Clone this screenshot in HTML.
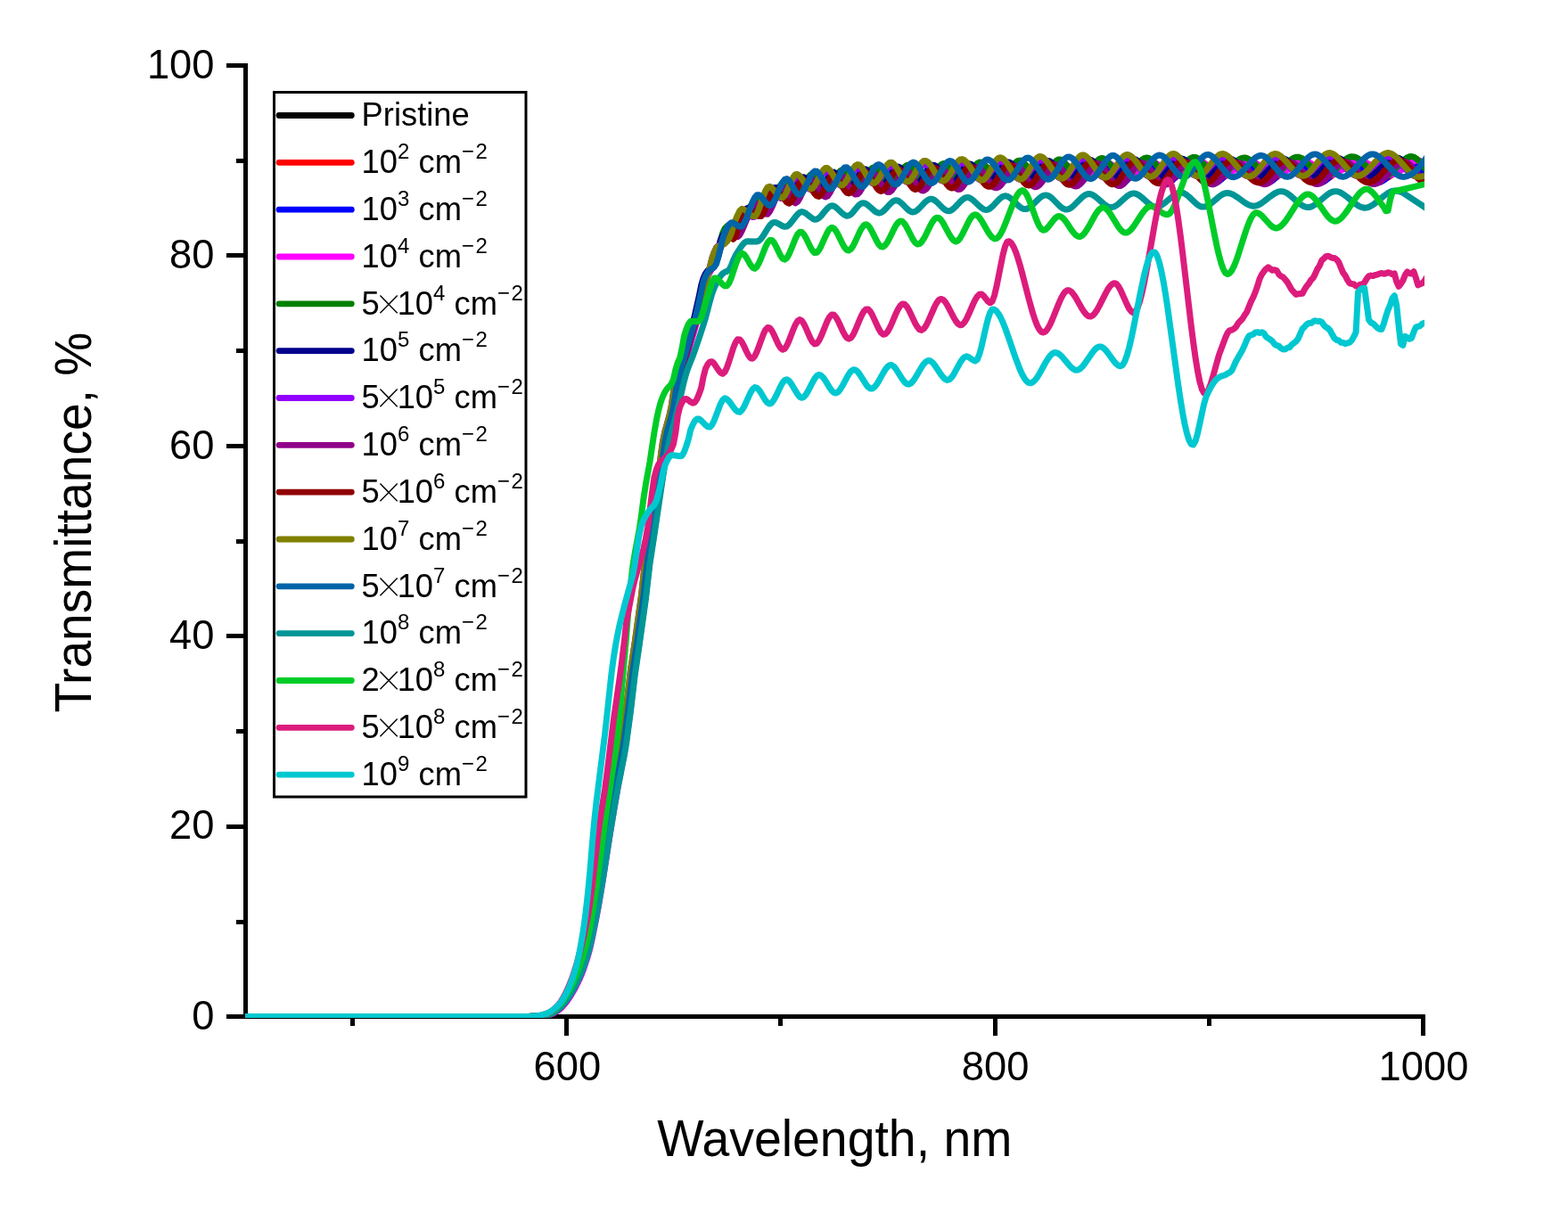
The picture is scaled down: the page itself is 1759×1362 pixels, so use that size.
<!DOCTYPE html>
<html lang="en"><head><meta charset="utf-8"><title>Transmittance vs Wavelength</title>
<style>html,body{margin:0;padding:0;background:#fff;overflow:hidden}svg{display:block}.s{font-size:24.6px}.x{font-size:34px;font-family:'Noto Serif CJK SC','Liberation Serif',serif}</style></head>
<body>
<svg width="1759" height="1362" viewBox="0 0 1759 1362" font-family="'Liberation Sans', Arial, Helvetica, sans-serif" fill="#000">
<rect width="1759" height="1362" fill="#fff"/>
<defs><clipPath id="plot"><rect x="275" y="60" width="1323" height="1082"/></clipPath></defs>
<g stroke="#000" stroke-width="5" fill="none">
<path d="M275.5,71 V1143"/>
<path d="M273,1140.5 H1599"/>
<path d="M254,1140.5 H275 M265,1034.5 H275 M254,927.5 H275 M265,820.5 H275 M254,713.5 H275 M265,607.5 H275 M254,500.5 H275 M265,393.5 H275 M254,286.5 H275 M265,180.5 H275 M254,73.5 H275 M395.5,1140 V1151 M635.5,1140 V1162 M875.5,1140 V1151 M1116.5,1140 V1162 M1356.5,1140 V1151 M1596.5,1140 V1162"/>
</g>
<g fill="none" stroke-width="7" stroke-linejoin="round" stroke-linecap="round" clip-path="url(#plot)">
<path stroke="#000000" d="M273.1,1140.5 582.7,1140.5 597.1,1140.4 606.7,1140 611.5,1139.5 616.3,1138.3 618.7,1137.4 621.1,1136.2 623.5,1134.8 625.9,1133 628.3,1131 630.7,1128.6 633.1,1125.8 635.5,1122.7 637.9,1119.3 640.3,1115.5 645.1,1106.9 649.9,1096.7 652.3,1090.9 654.7,1084.4 657.1,1076.4 659.5,1069.2 661.9,1059.7 664.3,1048.6 669.1,1023.8 671.5,1010.4 676.3,981.1 683.5,934.2 688.3,905.1 693.1,878 697.9,852.9 700.3,839.2 702.7,823.1 705.1,805.4 709.9,764.2 712.3,746 717.1,714.3 724.3,661.7 726.7,638.4 731.5,606.6 736.3,573.1 741.1,542.9 743.5,526 745.9,506.3 748.3,491.3 750.7,481.3 753.1,473 755.5,463.9 757.9,451 760.3,435.7 762.7,424.9 765.1,415.7 769.9,398.5 779.5,365.4 781.9,355.8 784.3,345.3 789.1,323 791.5,313.5 793.9,307.9 796.3,304.1 801.1,297.9 803.5,293.7 805.9,286.8 808.3,277.9 810.7,269.8 813.1,264.3 815.5,262 817.9,261.3 820.3,261.6 822.7,264.8 825.1,265.6 827.5,261.5 832.3,247.9 834.7,242.3 837.1,237.9 839.5,234.8 841.9,232.9 844.3,232.1 846.7,232.5 849.1,234.1 853.9,239.2 856.3,239.7 858.7,237.1 861.1,231.7 863.5,225.5 865.9,220 868.3,215.6 870.7,212.8 873.1,211.6 875.5,211.9 877.9,213.7 880.3,216.7 885.1,224 887.5,225.8 889.9,224.9 892.3,221.1 897.1,210 899.5,205.4 901.9,202.4 904.3,201.1 906.7,201.5 909.1,203.4 911.5,206.5 916.3,214.3 918.7,217.2 921.1,218.5 923.5,217.5 925.9,214.5 933.1,200.5 935.5,197.3 937.9,195.9 940.3,196.5 942.7,198.9 945.1,202.6 949.9,210.8 952.3,213.7 954.7,215.1 957.1,214.7 959.5,212.6 961.9,209 966.7,200 969.1,196.1 971.5,193.5 973.9,192.6 976.3,193.5 978.7,196.1 981.1,199.8 985.9,208 988.3,210.9 990.7,212.5 993.1,212.4 995.5,210.7 997.9,207.6 1005.1,195.2 1007.5,192.1 1009.9,190.3 1012.3,190.2 1014.7,191.6 1017.1,194.4 1024.3,205.9 1026.7,208.8 1029.1,210.5 1031.5,210.7 1033.9,209.4 1036.3,206.7 1038.7,203.1 1043.5,195 1045.9,191.6 1048.3,189.2 1050.7,188.2 1053.1,188.7 1055.5,190.5 1057.9,193.6 1065.1,204.9 1067.5,207.7 1069.9,209.3 1072.3,209.3 1074.7,207.8 1077.1,204.9 1084.3,192.9 1086.7,189.7 1089.1,187.5 1091.5,186.7 1093.9,187.3 1096.3,189.1 1098.7,192 1105.9,202.5 1108.3,205.3 1110.7,207.1 1113.1,207.7 1115.5,207.1 1117.9,205.3 1120.3,202.5 1122.7,199.1 1127.5,191.7 1129.9,188.5 1132.3,186.2 1134.7,184.9 1137.1,185 1139.5,186.4 1141.9,188.9 1144.3,192.2 1149.1,199.6 1151.5,202.8 1153.9,205 1156.3,206.2 1158.7,206.2 1161.1,205 1163.5,202.7 1165.9,199.6 1173.1,188.9 1175.5,186 1177.9,184.2 1180.3,183.5 1182.7,184.1 1185.1,185.8 1187.5,188.7 1194.7,199.4 1197.1,202.4 1199.5,204.5 1201.9,205.6 1204.3,205.5 1206.7,204.2 1209.1,202 1211.5,199.1 1218.7,188.7 1221.1,185.7 1223.5,183.6 1225.9,182.4 1228.3,182.3 1230.7,183.2 1233.1,185.1 1235.5,187.8 1242.7,198 1245.1,201 1247.5,203.3 1249.9,204.8 1252.3,205.2 1254.7,204.5 1257.1,202.7 1259.5,200.1 1261.9,196.8 1266.7,189.7 1269.1,186.5 1271.5,183.9 1273.9,182.2 1276.3,181.5 1278.7,181.7 1281.1,182.9 1283.5,184.9 1285.9,187.5 1293.1,196.7 1295.5,199.5 1297.9,201.7 1300.3,203.3 1302.7,203.9 1305.1,203.7 1307.5,202.6 1309.9,200.7 1312.3,198.2 1319.5,188.8 1321.9,185.9 1324.3,183.5 1326.7,181.8 1329.1,181 1331.5,181 1333.9,181.9 1336.3,183.6 1338.7,186.1 1341.1,189 1345.9,195.3 1348.3,198.2 1350.7,200.6 1353.1,202.3 1355.5,203.3 1357.9,203.4 1360.3,202.6 1362.7,201.1 1365.1,198.9 1367.5,196.2 1374.7,187.4 1377.1,184.9 1379.5,183 1381.9,181.7 1384.3,181.2 1386.7,181.3 1389.1,182.2 1391.5,183.6 1393.9,185.6 1396.3,187.9 1403.5,195.7 1405.9,198.1 1408.3,200.2 1410.7,201.8 1413.1,202.9 1415.5,203.4 1417.9,203.1 1420.3,202.1 1422.7,200.5 1425.1,198.3 1427.5,195.7 1434.7,187.1 1437.1,184.7 1439.5,182.8 1441.9,181.5 1444.3,180.9 1446.7,181.1 1449.1,181.9 1451.5,183.4 1453.9,185.4 1456.3,187.8 1463.5,195.9 1465.9,198.3 1468.3,200.4 1470.7,201.9 1473.1,202.9 1475.5,203.1 1477.9,202.7 1480.3,201.6 1482.7,199.9 1485.1,197.7 1487.5,195.1 1494.7,186.9 1497.1,184.5 1499.5,182.5 1501.9,181.1 1504.3,180.3 1506.7,180.2 1509.1,180.7 1511.5,181.8 1513.9,183.4 1516.3,185.5 1518.7,187.8 1525.9,195.6 1528.3,197.9 1530.7,199.9 1533.1,201.5 1535.5,202.6 1537.9,203.1 1540.3,203 1542.7,202.4 1545.1,201.2 1547.5,199.6 1549.9,197.6 1552.3,195.4 1561.9,185.6 1564.3,183.6 1566.7,181.9 1569.1,180.7 1571.5,180.1 1573.9,180.1 1576.3,180.8 1578.7,182.2 1581.1,184.2 1583.5,186.6 1593.1,198.2 1595.5,200.5 1597.9,202.1 1600.3,203"/>
<path stroke="#ff0000" d="M273.1,1140.5 580.3,1140.5 594.7,1140.4 604.3,1140.2 609.1,1139.7 613.9,1138.8 616.3,1138.1 618.7,1137.2 621.1,1135.9 623.5,1134.4 625.9,1132.6 628.3,1130.5 630.7,1128 633.1,1125.2 635.5,1122 637.9,1118.5 642.7,1110.4 647.5,1100.9 649.9,1095.5 652.3,1089.6 654.7,1083 657.1,1075.5 659.5,1067.3 661.9,1057.6 664.3,1046.1 669.1,1021.1 673.9,993.1 681.1,946.1 688.3,902.1 690.7,888.3 697.9,850.1 700.3,836 705.1,801.5 709.9,760.1 712.3,742.7 717.1,710.7 721.9,675.8 724.3,657.2 726.7,634.6 731.5,603.1 736.3,569.8 741.1,539.7 743.5,522 745.9,502.5 748.3,488.9 750.7,479.5 753.1,471.3 755.5,461.7 760.3,433.3 762.7,422.9 769.9,396.7 777.1,372.2 779.5,363.5 781.9,353.7 786.7,332.4 789.1,320.6 791.5,312.2 793.9,307 796.3,303.5 798.7,300.5 801.1,297.1 803.5,292.1 805.9,283.9 808.3,274.2 810.7,265.6 813.1,259.9 815.5,257.2 817.9,255.9 820.3,255.6 822.7,256.5 825.1,259.3 827.5,260.6 829.9,258.7 832.3,254.8 839.5,240 841.9,235.5 844.3,231.5 846.7,228.4 849.1,226.5 851.5,226.5 853.9,228.4 856.3,231.7 858.7,234.4 861.1,234.9 863.5,232.9 865.9,229.3 873.1,215.8 875.5,212.1 877.9,209.6 880.3,208.6 882.7,209.4 885.1,212.1 889.9,219.9 892.3,222.1 894.7,221.7 897.1,219.3 899.5,215.4 904.3,206.8 906.7,203.3 909.1,200.8 911.5,199.7 913.9,200.2 916.3,202.4 923.5,213 925.9,215.1 928.3,215.3 930.7,213.7 933.1,210.5 937.9,202.1 940.3,198.5 942.7,196.1 945.1,195.3 947.5,196.3 949.9,198.7 957.1,209.2 959.5,211.6 961.9,212.6 964.3,211.9 966.7,209.8 969.1,206.4 973.9,198.3 976.3,194.9 978.7,192.8 981.1,192.3 983.5,193.3 985.9,195.7 993.1,206 995.5,208.6 997.9,209.9 1000.3,209.8 1002.7,208.3 1005.1,205.5 1012.3,194.5 1014.7,191.7 1017.1,190.1 1019.5,189.9 1021.9,191.2 1024.3,193.6 1031.5,203.6 1033.9,206.3 1036.3,207.9 1038.7,208.3 1041.1,207.3 1043.5,205.1 1045.9,202 1050.7,194.8 1053.1,191.6 1055.5,189.3 1057.9,188.2 1060.3,188.4 1062.7,189.9 1065.1,192.4 1072.3,202.7 1074.7,205.3 1077.1,206.8 1079.5,206.9 1081.9,205.6 1084.3,203.2 1086.7,200 1091.5,193 1093.9,190 1096.3,187.8 1098.7,186.8 1101.1,186.9 1103.5,188.1 1105.9,190.3 1108.3,193.2 1113.1,199.4 1115.5,202.1 1117.9,204 1120.3,205 1122.7,204.9 1125.1,203.8 1127.5,201.7 1129.9,198.8 1134.7,192.1 1137.1,188.9 1139.5,186.5 1141.9,185 1144.3,184.7 1146.7,185.6 1149.1,187.5 1151.5,190.2 1156.3,196.7 1158.7,199.6 1161.1,202 1163.5,203.5 1165.9,204 1168.3,203.4 1170.7,201.8 1173.1,199.4 1175.5,196.3 1180.3,189.6 1182.7,186.8 1185.1,184.7 1187.5,183.7 1189.9,183.7 1192.3,184.9 1194.7,187.1 1197.1,189.9 1201.9,196.2 1204.3,199.1 1206.7,201.3 1209.1,202.8 1211.5,203.3 1213.9,202.8 1216.3,201.4 1218.7,199.2 1221.1,196.4 1228.3,187.2 1230.7,184.8 1233.1,183.1 1235.5,182.3 1237.9,182.4 1240.3,183.5 1242.7,185.5 1245.1,188 1252.3,197.2 1254.7,199.8 1257.1,201.7 1259.5,202.7 1261.9,202.7 1264.3,201.7 1266.7,199.9 1269.1,197.4 1276.3,188.4 1278.7,185.8 1281.1,183.7 1283.5,182.3 1285.9,181.7 1288.3,181.9 1290.7,182.9 1293.1,184.6 1295.5,186.9 1302.7,195 1305.1,197.5 1307.5,199.5 1309.9,200.8 1312.3,201.4 1314.7,201.1 1317.1,200.1 1319.5,198.4 1321.9,196.1 1329.1,187.9 1331.5,185.3 1333.9,183.2 1336.3,181.8 1338.7,181.1 1341.1,181.2 1343.5,182 1345.9,183.6 1348.3,185.8 1357.9,196.5 1360.3,198.6 1362.7,200.2 1365.1,201.1 1367.5,201.2 1369.9,200.6 1372.3,199.3 1374.7,197.5 1377.1,195.2 1384.3,187.7 1386.7,185.5 1389.1,183.8 1391.5,182.5 1393.9,181.8 1396.3,181.6 1398.7,182.1 1401.1,183 1403.5,184.5 1405.9,186.3 1408.3,188.5 1415.5,195.5 1417.9,197.6 1420.3,199.3 1422.7,200.5 1425.1,201 1427.5,200.9 1429.9,200.1 1432.3,198.7 1434.7,196.8 1437.1,194.5 1444.3,186.9 1446.7,184.7 1449.1,182.9 1451.5,181.6 1453.9,180.9 1456.3,180.8 1458.7,181.3 1461.1,182.4 1463.5,184.1 1465.9,186.1 1475.5,195.6 1477.9,197.7 1480.3,199.3 1482.7,200.3 1485.1,200.8 1487.5,200.7 1489.9,199.9 1492.3,198.6 1494.7,196.8 1497.1,194.7 1504.3,187.5 1506.7,185.3 1509.1,183.4 1511.5,181.9 1513.9,180.9 1516.3,180.5 1518.7,180.6 1521.1,181.2 1523.5,182.3 1525.9,183.8 1528.3,185.7 1537.9,194.7 1540.3,196.7 1542.7,198.4 1545.1,199.7 1547.5,200.5 1549.9,200.8 1552.3,200.7 1554.7,200.1 1557.1,199 1559.5,197.5 1561.9,195.7 1564.3,193.6 1573.9,184.5 1576.3,182.6 1578.7,181.3 1581.1,180.5 1583.5,180.3 1585.9,180.8 1588.3,181.9 1590.7,183.7 1593.1,186 1600.3,194.1"/>
<path stroke="#0000ff" d="M273.1,1140.5 580.3,1140.5 594.7,1140.4 604.3,1140.1 609.1,1139.7 613.9,1138.7 616.3,1137.9 618.7,1136.9 621.1,1135.6 623.5,1134.1 625.9,1132.2 628.3,1130 630.7,1127.4 633.1,1124.5 637.9,1117.7 642.7,1109.5 647.5,1099.8 649.9,1094.3 652.3,1088.3 654.7,1081.5 659.5,1065.5 661.9,1055.4 664.3,1043.7 669.1,1018.3 673.9,990 681.1,942.9 688.3,899.2 690.7,885.5 697.9,847.3 700.3,832.7 705.1,797.5 709.9,756.1 714.7,723.9 721.9,672.3 726.7,631 729.1,615.9 736.3,566.6 741.1,536.3 745.9,499 748.3,486.8 753.1,469.5 755.5,459.3 757.9,443.8 760.3,430.9 762.7,420.9 765.1,412.1 769.9,394.9 777.1,370.5 779.5,361.5 784.3,340.9 789.1,318.3 791.5,311 793.9,306.2 796.3,303.1 798.7,300.3 801.1,296.9 803.5,291.6 805.9,282.9 808.3,273.3 810.7,265.2 813.1,260.1 815.5,258 817.9,257 820.3,257.1 822.7,259.7 825.1,263.7 827.5,264.6 829.9,261.2 832.3,255.9 837.1,244.3 839.5,239.1 841.9,234.6 844.3,231.1 846.7,228.8 849.1,228.2 851.5,229.6 853.9,233 856.3,236.9 858.7,239.2 861.1,238.3 863.5,234.5 870.7,218.6 873.1,214.3 875.5,211.2 877.9,209.8 880.3,210.2 882.7,212.6 885.1,216.9 887.5,221.7 889.9,225.4 892.3,226.3 894.7,224.1 897.1,219.8 901.9,209.5 904.3,205.1 906.7,201.9 909.1,200.5 911.5,200.8 913.9,202.9 916.3,206.6 921.1,215.4 923.5,218.5 925.9,219.4 928.3,218 930.7,214.6 935.5,204.8 937.9,200.2 940.3,197 942.7,195.8 945.1,196.6 947.5,199.3 949.9,203.3 954.7,211.9 957.1,215 959.5,216.4 961.9,216 964.3,213.6 966.7,209.8 971.5,200.3 973.9,196.2 976.3,193.5 978.7,192.6 981.1,193.7 983.5,196.5 985.9,200.4 990.7,208.9 993.1,212 995.5,213.7 997.9,213.7 1000.3,212 1002.7,208.8 1009.9,195.7 1012.3,192.4 1014.7,190.5 1017.1,190.3 1019.5,191.7 1021.9,194.6 1029.1,206.7 1031.5,209.9 1033.9,211.8 1036.3,212.2 1038.7,210.9 1041.1,208.3 1043.5,204.6 1048.3,196 1050.7,192.3 1053.1,189.7 1055.5,188.4 1057.9,188.8 1060.3,190.6 1062.7,193.8 1069.9,205.9 1072.3,209 1074.7,210.7 1077.1,210.8 1079.5,209.2 1081.9,206.2 1084.3,202.3 1089.1,193.9 1091.5,190.4 1093.9,188 1096.3,187 1098.7,187.3 1101.1,189.1 1103.5,191.9 1110.7,203 1113.1,206 1115.5,208.1 1117.9,209 1120.3,208.6 1122.7,207 1125.1,204.3 1127.5,200.8 1132.3,192.8 1134.7,189.3 1137.1,186.6 1139.5,185.2 1141.9,185.1 1144.3,186.4 1146.7,189 1149.1,192.4 1153.9,200.2 1156.3,203.6 1158.7,206.1 1161.1,207.6 1163.5,207.8 1165.9,206.8 1168.3,204.6 1170.7,201.5 1177.9,190 1180.3,186.8 1182.7,184.7 1185.1,183.8 1187.5,184.2 1189.9,186 1192.3,188.9 1199.5,200 1201.9,203.3 1204.3,205.6 1206.7,207 1209.1,207.2 1211.5,206.2 1213.9,204.1 1216.3,201.2 1223.5,190.2 1225.9,186.9 1228.3,184.4 1230.7,182.8 1233.1,182.4 1235.5,183.1 1237.9,184.8 1240.3,187.5 1242.7,190.8 1247.5,198.2 1249.9,201.6 1252.3,204.3 1254.7,206.1 1257.1,206.8 1259.5,206.3 1261.9,204.7 1264.3,202.1 1266.7,198.8 1271.5,191.4 1273.9,187.9 1276.3,185.1 1278.7,183.1 1281.1,182 1283.5,181.9 1285.9,182.7 1288.3,184.4 1290.7,186.9 1293.1,189.9 1300.3,199.6 1302.7,202.2 1305.1,204.1 1307.5,205.2 1309.9,205.3 1312.3,204.5 1314.7,202.8 1317.1,200.3 1319.5,197.3 1326.7,187.4 1329.1,184.7 1331.5,182.7 1333.9,181.4 1336.3,181.2 1338.7,181.9 1341.1,183.5 1343.5,185.8 1345.9,188.8 1353.1,198.6 1355.5,201.3 1357.9,203.4 1360.3,204.7 1362.7,205.1 1365.1,204.6 1367.5,203.3 1369.9,201.3 1372.3,198.6 1379.5,189.5 1381.9,186.7 1384.3,184.5 1386.7,182.9 1389.1,181.9 1391.5,181.7 1393.9,182.2 1396.3,183.3 1398.7,185 1401.1,187.2 1403.5,189.7 1410.7,198 1413.1,200.4 1415.5,202.5 1417.9,204 1420.3,204.8 1422.7,204.8 1425.1,204.1 1427.5,202.6 1429.9,200.4 1432.3,197.8 1439.5,188.7 1441.9,186 1444.3,183.8 1446.7,182.2 1449.1,181.3 1451.5,181.1 1453.9,181.6 1456.3,182.9 1458.7,184.8 1461.1,187.1 1470.7,198.4 1473.1,200.8 1475.5,202.8 1477.9,204.1 1480.3,204.7 1482.7,204.6 1485.1,203.8 1487.5,202.2 1489.9,200.1 1492.3,197.6 1499.5,188.9 1501.9,186.2 1504.3,184 1506.7,182.2 1509.1,181.1 1511.5,180.6 1513.9,180.7 1516.3,181.5 1518.7,182.9 1521.1,184.8 1523.5,187.1 1533.1,197.8 1535.5,200.1 1537.9,202.1 1540.3,203.6 1542.7,204.5 1545.1,204.8 1547.5,204.5 1549.9,203.6 1552.3,202.2 1554.7,200.4 1557.1,198.2 1566.7,187.7 1569.1,185.2 1571.5,183.2 1573.9,181.6 1576.3,180.6 1578.7,180.4 1581.1,180.9 1583.5,182.2 1585.9,184.1 1588.3,186.7 1597.9,199.2 1600.3,201.7"/>
<path stroke="#ff00ff" d="M273.1,1140.5 582.7,1140.5 597.1,1140.4 606.7,1140.1 611.5,1139.6 616.3,1138.6 618.7,1137.8 621.1,1136.7 623.5,1135.4 625.9,1133.8 628.3,1131.9 630.7,1129.6 633.1,1127 635.5,1124.1 640.3,1117.1 645.1,1108.8 649.9,1099 652.3,1093.4 654.7,1087.2 659.5,1072.7 661.9,1063.8 664.3,1053.1 669.1,1029.1 671.5,1016.1 676.3,987.5 683.5,940.4 688.3,911.1 693.1,883.4 700.3,845.3 702.7,830.2 705.1,813 707.5,794.2 712.3,753.1 717.1,721.2 724.3,669.5 726.7,647.8 729.1,628.4 731.5,613.3 738.7,564.1 743.5,533.6 748.3,496.5 750.7,485.1 755.5,468 757.9,457.3 760.3,441.1 762.7,429.1 765.1,419.4 767.5,410.7 772.3,393.6 779.5,369 781.9,359.9 786.7,339.1 791.5,316.7 793.9,310 796.3,305.4 801.1,297.8 803.5,293.4 805.9,287.2 810.7,269 813.1,262 815.5,257.9 817.9,256.1 820.3,255.3 822.7,255.4 825.1,257 827.5,257.1 829.9,254.7 832.3,250.9 839.5,237.9 841.9,233.9 844.3,230.5 846.7,227.7 849.1,226 851.5,225.6 853.9,226.8 856.3,228.9 858.7,230.6 861.1,230.6 863.5,228.7 865.9,225.6 873.1,214.4 875.5,211.4 877.9,209.2 880.3,208.2 882.7,208.5 885.1,210.4 889.9,216.1 892.3,217.6 894.7,217.4 897.1,215.4 899.5,212.5 904.3,205.6 906.7,202.7 909.1,200.5 911.5,199.4 913.9,199.5 916.3,200.8 918.7,203.2 923.5,208.7 925.9,210.5 928.3,210.9 930.7,209.9 933.1,207.6 940.3,198.1 942.7,196 945.1,195 947.5,195.3 949.9,196.8 952.3,199.2 957.1,204.7 959.5,206.7 961.9,207.9 964.3,207.8 966.7,206.5 969.1,204.2 976.3,195 978.7,192.9 981.1,192 983.5,192.2 985.9,193.6 988.3,195.8 993.1,201.2 995.5,203.5 997.9,204.9 1000.3,205.4 1002.7,204.8 1005.1,203.1 1007.5,200.6 1012.3,194.7 1014.7,192.2 1017.1,190.3 1019.5,189.5 1021.9,189.8 1024.3,191.1 1026.7,193.2 1031.5,198.5 1033.9,200.9 1036.3,202.6 1038.7,203.6 1041.1,203.5 1043.5,202.4 1045.9,200.5 1048.3,198 1053.1,192.4 1055.5,190.1 1057.9,188.5 1060.3,187.8 1062.7,188.2 1065.1,189.5 1067.5,191.6 1074.7,199.5 1077.1,201.3 1079.5,202.3 1081.9,202.1 1084.3,201 1086.7,199.1 1093.9,191.1 1096.3,188.9 1098.7,187.2 1101.1,186.4 1103.5,186.5 1105.9,187.4 1108.3,189.1 1110.7,191.2 1115.5,196 1117.9,198 1120.3,199.5 1122.7,200.3 1125.1,200.3 1127.5,199.5 1129.9,197.9 1132.3,195.7 1139.5,188 1141.9,186 1144.3,184.8 1146.7,184.4 1149.1,185 1151.5,186.3 1153.9,188.3 1161.1,195.4 1163.5,197.3 1165.9,198.7 1168.3,199.3 1170.7,199 1173.1,198 1175.5,196.3 1177.9,194 1182.7,188.8 1185.1,186.5 1187.5,184.7 1189.9,183.6 1192.3,183.4 1194.7,184 1197.1,185.4 1199.5,187.3 1206.7,194.3 1209.1,196.3 1211.5,197.7 1213.9,198.4 1216.3,198.5 1218.7,197.7 1221.1,196.4 1223.5,194.4 1230.7,187.3 1233.1,185.1 1235.5,183.5 1237.9,182.4 1240.3,182.1 1242.7,182.5 1245.1,183.5 1247.5,185.2 1249.9,187.4 1257.1,194.4 1259.5,196.3 1261.9,197.5 1264.3,198 1266.7,197.8 1269.1,196.9 1271.5,195.3 1273.9,193.3 1281.1,186.5 1283.5,184.5 1285.9,183 1288.3,182 1290.7,181.6 1293.1,181.8 1295.5,182.5 1297.9,183.8 1300.3,185.5 1307.5,191.8 1309.9,193.6 1312.3,195.1 1314.7,196.1 1317.1,196.6 1319.5,196.4 1321.9,195.7 1324.3,194.4 1326.7,192.7 1336.3,184.3 1338.7,182.7 1341.1,181.5 1343.5,180.9 1345.9,180.9 1348.3,181.5 1350.7,182.7 1353.1,184.3 1362.7,192.5 1365.1,194.2 1367.5,195.5 1369.9,196.3 1372.3,196.6 1374.7,196.3 1377.1,195.5 1379.5,194.3 1381.9,192.7 1389.1,187.1 1393.9,184 1396.3,182.8 1398.7,182 1401.1,181.6 1403.5,181.6 1405.9,182 1408.3,182.9 1410.7,184.1 1413.1,185.6 1422.7,192.9 1425.1,194.4 1427.5,195.5 1429.9,196.2 1432.3,196.4 1434.7,196.1 1437.1,195.2 1439.5,194 1441.9,192.4 1449.1,186.6 1453.9,183.2 1456.3,181.9 1458.7,181 1461.1,180.5 1463.5,180.6 1465.9,181 1468.3,182 1470.7,183.3 1473.1,184.9 1480.3,190.5 1482.7,192.3 1485.1,193.8 1487.5,195 1489.9,195.8 1492.3,196.1 1494.7,196 1497.1,195.4 1499.5,194.4 1501.9,193 1504.3,191.4 1511.5,186 1516.3,182.8 1518.7,181.7 1521.1,180.8 1523.5,180.4 1525.9,180.4 1528.3,180.7 1530.7,181.5 1533.1,182.6 1537.9,185.6 1545.1,190.7 1549.9,193.7 1552.3,194.8 1554.7,195.6 1557.1,196 1559.5,196.1 1561.9,195.8 1564.3,195.2 1566.7,194.1 1569.1,192.8 1571.5,191.2 1581.1,183.7 1583.5,182.1 1585.9,181 1588.3,180.3 1590.7,180.1 1593.1,180.5 1595.5,181.5 1597.9,182.9 1600.3,184.7"/>
<path stroke="#008000" d="M273.1,1140.5 580.3,1140.5 594.7,1140.4 604.3,1140.1 609.1,1139.6 613.9,1138.6 616.3,1137.7 618.7,1136.7 621.1,1135.3 623.5,1133.7 625.9,1131.7 628.3,1129.5 630.7,1126.9 633.1,1123.9 637.9,1116.9 642.7,1108.5 647.5,1098.7 649.9,1093.1 652.3,1086.9 654.7,1080 657.1,1071.3 659.5,1063.5 661.9,1053.2 669.1,1014.7 673.9,986.7 681.1,939.8 685.9,910.5 690.7,882.8 695.5,857.7 697.9,844.3 700.3,829.3 705.1,793.3 709.9,752.4 714.7,720.5 721.9,668.7 724.3,646.7 726.7,627.7 729.1,612.7 736.3,563.4 741.1,532.9 743.5,513.6 745.9,496 748.3,484.7 753.1,467.6 755.5,456.8 757.9,440.5 760.3,428.7 762.7,419 765.1,410.3 769.9,393.2 777.1,368.7 779.5,359.5 784.3,338.6 789.1,316.3 791.5,309.8 793.9,305.4 798.7,299.9 801.1,296.1 803.5,289.7 808.3,269.9 810.7,261.5 813.1,256.4 815.5,253.8 817.9,252.4 820.3,252.1 822.7,253.1 825.1,256.4 827.5,258 829.9,256.1 832.3,252.1 839.5,236.4 841.9,231.5 844.3,227.3 846.7,224 849.1,222.1 851.5,222.3 853.9,224.7 856.3,228.6 858.7,231.8 861.1,232.5 863.5,230.5 865.9,226.5 873.1,211.8 875.5,207.8 877.9,205.1 880.3,204.1 882.7,205.1 885.1,208.3 889.9,217.2 892.3,219.7 894.7,219.4 897.1,216.7 899.5,212.5 904.3,203 906.7,199.1 909.1,196.3 911.5,195.2 913.9,195.8 916.3,198.3 923.5,210.4 925.9,212.7 928.3,213.1 930.7,211.2 933.1,207.7 937.9,198.3 940.3,194.3 942.7,191.6 945.1,190.8 947.5,191.9 949.9,194.6 957.1,206.5 959.5,209.2 961.9,210.3 964.3,209.7 966.7,207.2 969.1,203.5 973.9,194.4 976.3,190.6 978.7,188.3 981.1,187.7 983.5,188.9 985.9,191.6 993.1,203.3 995.5,206.1 997.9,207.7 1000.3,207.6 1002.7,205.9 1005.1,202.8 1012.3,190.4 1014.7,187.3 1017.1,185.5 1019.5,185.3 1021.9,186.7 1024.3,189.5 1031.5,200.8 1033.9,203.8 1036.3,205.7 1038.7,206.1 1041.1,205 1043.5,202.6 1045.9,199.1 1050.7,191 1053.1,187.4 1055.5,184.8 1057.9,183.6 1060.3,183.8 1062.7,185.5 1065.1,188.4 1072.3,199.9 1074.7,202.9 1077.1,204.6 1079.5,204.7 1081.9,203.3 1084.3,200.6 1086.7,197 1091.5,189.1 1093.9,185.7 1096.3,183.3 1098.7,182.1 1101.1,182.3 1103.5,183.7 1105.9,186.2 1108.3,189.4 1113.1,196.5 1115.5,199.5 1117.9,201.7 1120.3,202.8 1122.7,202.7 1125.1,201.4 1127.5,199.1 1129.9,195.9 1134.7,188.3 1137.1,184.8 1139.5,182.1 1141.9,180.4 1144.3,180.1 1146.7,181.1 1149.1,183.3 1151.5,186.3 1156.3,193.6 1158.7,196.9 1161.1,199.6 1163.5,201.3 1165.9,201.8 1168.3,201.2 1170.7,199.4 1173.1,196.7 1175.5,193.2 1180.3,185.7 1182.7,182.5 1185.1,180.2 1187.5,179 1189.9,179.1 1192.3,180.5 1194.7,182.9 1197.1,186.1 1201.9,193.2 1204.3,196.4 1206.7,198.9 1209.1,200.6 1211.5,201.2 1213.9,200.6 1216.3,199.1 1218.7,196.6 1221.1,193.5 1228.3,183.1 1230.7,180.4 1233.1,178.5 1235.5,177.6 1237.9,177.8 1240.3,179 1242.7,181.2 1245.1,184.1 1252.3,194.4 1254.7,197.3 1257.1,199.4 1259.5,200.6 1261.9,200.6 1264.3,199.5 1266.7,197.5 1269.1,194.6 1276.3,184.5 1278.7,181.5 1281.1,179.2 1283.5,177.7 1285.9,177 1288.3,177.3 1290.7,178.4 1293.1,180.3 1295.5,182.9 1302.7,192.1 1305.1,194.8 1307.5,197.1 1309.9,198.6 1312.3,199.2 1314.7,199 1317.1,197.8 1319.5,195.9 1321.9,193.4 1329.1,184.1 1331.5,181.2 1333.9,178.9 1336.3,177.2 1338.7,176.4 1341.1,176.5 1343.5,177.5 1345.9,179.3 1348.3,181.8 1357.9,193.8 1360.3,196.2 1362.7,197.9 1365.1,198.9 1367.5,199 1369.9,198.4 1372.3,196.9 1374.7,194.8 1377.1,192.3 1384.3,183.8 1386.7,181.4 1389.1,179.4 1391.5,178 1393.9,177.2 1396.3,177 1398.7,177.5 1401.1,178.6 1403.5,180.2 1405.9,182.3 1408.3,184.7 1415.5,192.6 1417.9,195 1420.3,196.9 1422.7,198.2 1425.1,198.8 1427.5,198.7 1429.9,197.8 1432.3,196.3 1434.7,194.1 1437.1,191.5 1444.3,183 1446.7,180.5 1449.1,178.5 1451.5,177.1 1453.9,176.3 1456.3,176.2 1458.7,176.8 1461.1,178 1463.5,179.8 1465.9,182.1 1475.5,192.9 1477.9,195.1 1480.3,196.9 1482.7,198.2 1485.1,198.7 1487.5,198.5 1489.9,197.7 1492.3,196.2 1494.7,194.2 1497.1,191.8 1504.3,183.7 1506.7,181.2 1509.1,179.1 1511.5,177.4 1513.9,176.3 1516.3,175.8 1518.7,175.9 1521.1,176.6 1523.5,177.9 1525.9,179.6 1528.3,181.7 1537.9,191.8 1540.3,194 1542.7,195.9 1545.1,197.4 1547.5,198.3 1549.9,198.7 1552.3,198.6 1554.7,197.9 1557.1,196.7 1559.5,195 1561.9,193 1564.3,190.6 1571.5,182.7 1573.9,180.3 1576.3,178.3 1578.7,176.7 1581.1,175.8 1583.5,175.6 1585.9,176.2 1588.3,177.5 1590.7,179.5 1593.1,182 1600.3,191.2"/>
<path stroke="#00008c" d="M273.1,1140.5 577.9,1140.5 592.3,1140.4 601.9,1140.1 606.7,1139.7 611.5,1138.8 613.9,1138.1 616.3,1137.1 618.7,1135.9 621.1,1134.5 623.5,1132.6 625.9,1130.5 628.3,1128 630.7,1125.1 633.1,1121.9 635.5,1118.3 640.3,1110 645.1,1100.1 649.9,1088.5 652.3,1082 654.7,1074.8 657.1,1066.1 659.5,1058.1 661.9,1048 664.3,1036 669.1,1007.9 678.7,945.3 685.9,901.5 688.3,887.8 695.5,849.5 697.9,835 700.3,818.6 702.7,800.3 707.5,759.3 709.9,742 714.7,709.9 719.5,675.1 721.9,656.3 724.3,633.8 729.1,602.4 733.9,569.2 738.7,539 743.5,501.8 745.9,488.5 748.3,479.2 750.7,470.9 753.1,461.2 757.9,432.8 760.3,422.5 767.5,396.4 774.7,371.9 777.1,363.1 779.5,353.2 784.3,331.9 786.7,320.1 789.1,311.9 791.5,306.8 793.9,303.6 796.3,301.7 798.7,299.5 801.1,295.5 803.5,287.7 805.9,278.2 808.3,269.6 810.7,264 813.1,261.8 815.5,260.9 817.9,261.4 820.3,262.7 822.7,264.5 825.1,261.6 827.5,254.4 829.9,246.6 832.3,240.7 834.7,236.7 837.1,234.3 839.5,233.1 841.9,232.9 844.3,233.6 846.7,234.9 849.1,236.7 851.5,238.3 853.9,238.2 856.3,235.3 858.7,229.6 861.1,222.7 863.5,216.7 865.9,212.7 868.3,210.7 870.7,210.4 873.1,211.5 875.5,213.8 880.3,220.1 882.7,222.7 885.1,223.8 887.5,222.2 889.9,217.9 894.7,205.9 897.1,201.5 899.5,199.2 901.9,198.8 904.3,200.2 906.7,202.9 911.5,210.2 913.9,213.5 916.3,215.6 918.7,215.9 921.1,214 923.5,210.2 928.3,200.2 930.7,196 933.1,193.6 935.5,193.1 937.9,194.7 940.3,197.9 945.1,206.3 947.5,209.8 949.9,212 952.3,212.4 954.7,210.9 957.1,207.8 964.3,194.7 966.7,191.5 969.1,189.8 971.5,190 973.9,192 976.3,195.4 981.1,203.8 983.5,207.3 985.9,209.4 988.3,209.9 990.7,208.6 993.1,205.9 995.5,202 1000.3,193.4 1002.7,189.9 1005.1,187.7 1007.5,187.1 1009.9,188.1 1012.3,190.6 1014.7,194.2 1019.5,202.2 1021.9,205.4 1024.3,207.5 1026.7,208 1029.1,206.9 1031.5,204.5 1033.9,200.9 1038.7,192.7 1041.1,189.1 1043.5,186.5 1045.9,185.2 1048.3,185.4 1050.7,187.1 1053.1,190 1060.3,201.5 1062.7,204.4 1065.1,206.2 1067.5,206.6 1069.9,205.3 1072.3,202.7 1074.7,199 1079.5,190.6 1081.9,187.1 1084.3,184.7 1086.7,183.7 1089.1,184.1 1091.5,185.9 1093.9,188.8 1101.1,199.6 1103.5,202.5 1105.9,204.3 1108.3,205 1110.7,204.3 1113.1,202.4 1115.5,199.6 1122.7,188.6 1125.1,185.5 1127.5,183.2 1129.9,182 1132.3,182 1134.7,183.4 1137.1,185.8 1139.5,189.2 1144.3,196.6 1146.7,199.9 1149.1,202.2 1151.5,203.4 1153.9,203.3 1156.3,201.9 1158.7,199.5 1161.1,196.3 1165.9,188.9 1168.3,185.5 1170.7,182.7 1173.1,181 1175.5,180.4 1177.9,181 1180.3,182.8 1182.7,185.7 1189.9,196.7 1192.3,199.7 1194.7,201.8 1197.1,202.7 1199.5,202.4 1201.9,201 1204.3,198.6 1206.7,195.4 1213.9,184.9 1216.3,182.1 1218.7,180.2 1221.1,179.2 1223.5,179.3 1225.9,180.6 1228.3,182.7 1230.7,185.7 1237.9,195.9 1240.3,198.8 1242.7,200.9 1245.1,202.1 1247.5,202.2 1249.9,201.2 1252.3,199.2 1254.7,196.3 1261.9,185.7 1264.3,182.5 1266.7,180.1 1269.1,178.7 1271.5,178.3 1273.9,178.9 1276.3,180.5 1278.7,182.8 1281.1,185.7 1288.3,195.2 1290.7,197.8 1293.1,199.8 1295.5,201 1297.9,201.2 1300.3,200.6 1302.7,199.1 1305.1,196.8 1307.5,194 1314.7,184.4 1317.1,181.7 1319.5,179.5 1321.9,178.2 1324.3,177.7 1326.7,178.1 1329.1,179.4 1331.5,181.5 1333.9,184.2 1341.1,193.6 1343.5,196.3 1345.9,198.5 1348.3,199.9 1350.7,200.4 1353.1,200.1 1355.5,198.9 1357.9,197 1360.3,194.5 1367.5,185.4 1369.9,182.6 1372.3,180.4 1374.7,178.8 1377.1,177.9 1379.5,177.8 1381.9,178.5 1384.3,179.9 1386.7,181.9 1389.1,184.2 1396.3,192.3 1398.7,194.8 1401.1,197 1403.5,198.7 1405.9,199.8 1408.3,200.4 1410.7,200.3 1413.1,199.6 1415.5,198.2 1417.9,196.2 1420.3,193.7 1427.5,185.1 1429.9,182.5 1432.3,180.4 1434.7,178.9 1437.1,178 1439.5,177.9 1441.9,178.6 1444.3,180 1446.7,181.9 1449.1,184.2 1456.3,192.4 1458.7,194.9 1461.1,197 1463.5,198.7 1465.9,199.8 1468.3,200.2 1470.7,199.9 1473.1,198.9 1475.5,197.3 1477.9,195.2 1480.3,192.6 1487.5,184.2 1489.9,181.7 1492.3,179.6 1494.7,178.1 1497.1,177.2 1499.5,177 1501.9,177.4 1504.3,178.5 1506.7,180.1 1509.1,182.2 1511.5,184.6 1518.7,192.5 1521.1,194.9 1523.5,196.9 1525.9,198.5 1528.3,199.6 1530.7,200.1 1533.1,200 1535.5,199.4 1537.9,198.1 1540.3,196.4 1542.7,194.3 1552.3,184.5 1554.7,182.2 1557.1,180.3 1559.5,178.7 1561.9,177.5 1564.3,176.9 1566.7,176.9 1569.1,177.5 1571.5,178.7 1573.9,180.5 1576.3,182.8 1578.7,185.5 1585.9,194.1 1588.3,196.5 1590.7,198.5 1593.1,199.7 1595.5,200.1 1597.9,199.7 1600.3,198.5"/>
<path stroke="#9200ff" d="M273.1,1140.5 577.9,1140.5 592.3,1140.4 601.9,1140.1 606.7,1139.6 611.5,1138.5 613.9,1137.7 616.3,1136.7 618.7,1135.4 621.1,1133.7 623.5,1131.8 625.9,1129.5 628.3,1126.8 630.7,1123.8 633.1,1120.4 635.5,1116.7 640.3,1108 645.1,1097.8 649.9,1085.9 652.3,1079.1 654.7,1071.6 659.5,1054.1 661.9,1043.4 664.3,1030.7 669.1,1001.5 676.3,954.1 683.5,909.9 688.3,882.3 693.1,857.2 695.5,843.7 697.9,828.3 700.3,811 702.7,792.1 707.5,751.7 712.3,719.9 719.5,668 721.9,645.7 724.3,627.1 726.7,612 731.5,578.6 738.7,532.2 741.1,512.7 743.5,495.4 745.9,484.3 750.7,467.2 753.1,456.2 755.5,439.9 757.9,428.1 760.3,418.2 762.7,409.4 767.5,393.7 769.9,386.8 777.1,367.5 779.5,360.5 784.3,345.4 786.7,337.3 789.1,328.4 798.7,290 801.1,283.1 803.5,277.9 805.9,275.6 810.7,273.9 813.1,272.5 815.5,270.1 817.9,266.9 820.3,262.1 822.7,254.4 825.1,248 827.5,243.1 829.9,239.1 832.3,237.5 834.7,238 837.1,239.3 841.9,242.5 844.3,243.4 846.7,243.2 849.1,240.5 851.5,235.5 856.3,223.1 858.7,217.6 861.1,214 863.5,213.1 865.9,214.1 868.3,216.2 873.1,220.9 875.5,222.4 877.9,222.3 880.3,220.1 882.7,216.1 887.5,206.4 889.9,202.3 892.3,199.7 894.7,199.3 897.1,200.7 899.5,203.2 904.3,209.2 906.7,211.5 909.1,212.5 911.5,211.8 913.9,209.3 916.3,205.7 921.1,197.7 923.5,194.4 925.9,192.5 928.3,192.4 930.7,194.1 933.1,196.9 937.9,203.6 940.3,206.5 942.7,208.2 945.1,208.2 947.5,206.5 949.9,203.5 957.1,192.4 959.5,189.7 961.9,188.5 964.3,189.1 966.7,191.1 969.1,194.2 973.9,201.1 976.3,204 978.7,205.7 981.1,205.7 983.5,204.2 985.9,201.5 993.1,191 995.5,188.2 997.9,186.4 1000.3,186.2 1002.7,187.6 1005.1,190.2 1012.3,200.3 1014.7,202.9 1017.1,204.3 1019.5,204 1021.9,202.3 1024.3,199.5 1031.5,189 1033.9,186.2 1036.3,184.6 1038.7,184.4 1041.1,185.7 1043.5,188 1045.9,191.1 1050.7,197.7 1053.1,200.5 1055.5,202.5 1057.9,203.3 1060.3,202.6 1062.7,200.6 1065.1,197.7 1072.3,187.4 1074.7,184.7 1077.1,183 1079.5,182.7 1081.9,183.6 1084.3,185.5 1086.7,188.1 1093.9,197.2 1096.3,199.7 1098.7,201.6 1101.1,202.4 1103.5,201.9 1105.9,199.9 1108.3,196.9 1115.5,186 1117.9,183.1 1120.3,181.3 1122.7,181 1125.1,182 1127.5,183.9 1129.9,186.6 1137.1,195.9 1139.5,198.5 1141.9,200.5 1144.3,201.4 1146.7,201.1 1149.1,199.4 1151.5,196.8 1158.7,186.4 1161.1,183.3 1163.5,180.9 1165.9,179.7 1168.3,179.9 1170.7,181.1 1173.1,183.1 1175.5,185.7 1182.7,194.5 1185.1,197.1 1187.5,199.1 1189.9,200.2 1192.3,200.3 1194.7,199.2 1197.1,197 1199.5,194.2 1206.7,184.1 1209.1,181.3 1211.5,179.2 1213.9,178.1 1216.3,178.4 1218.7,179.6 1221.1,181.6 1223.5,184.2 1230.7,193.1 1233.1,195.7 1235.5,197.8 1237.9,199.1 1240.3,199.4 1242.7,198.6 1245.1,196.9 1247.5,194.4 1257.1,182.3 1259.5,180 1261.9,178.3 1264.3,177.6 1266.7,178 1269.1,179.3 1271.5,181.2 1273.9,183.7 1281.1,192 1283.5,194.5 1285.9,196.5 1288.3,198 1290.7,198.5 1293.1,198.1 1295.5,196.7 1297.9,194.5 1300.3,191.7 1307.5,182.6 1309.9,180 1312.3,178 1314.7,176.9 1317.1,176.8 1319.5,177.7 1321.9,179.2 1324.3,181.3 1326.7,183.8 1333.9,191.8 1336.3,194.1 1338.7,196 1341.1,197.2 1343.5,197.7 1345.9,197.3 1348.3,196 1350.7,194.2 1353.1,192 1362.7,181.6 1365.1,179.4 1367.5,177.8 1369.9,176.9 1372.3,176.8 1374.7,177.4 1377.1,178.7 1379.5,180.5 1381.9,182.7 1391.5,192.6 1393.9,194.8 1396.3,196.5 1398.7,197.6 1401.1,198.1 1403.5,197.9 1405.9,196.8 1408.3,195.2 1410.7,193.1 1420.3,182.8 1422.7,180.5 1425.1,178.7 1427.5,177.4 1429.9,176.7 1432.3,176.9 1434.7,177.8 1437.1,179.2 1439.5,181 1441.9,183.1 1451.5,192.5 1453.9,194.5 1456.3,196.1 1458.7,197.1 1461.1,197.6 1463.5,197.3 1465.9,196.2 1468.3,194.6 1470.7,192.6 1480.3,182.5 1482.7,180.2 1485.1,178.2 1487.5,176.8 1489.9,175.9 1492.3,175.8 1494.7,176.4 1497.1,177.6 1499.5,179.3 1504.3,183.6 1511.5,190.8 1513.9,193 1516.3,194.8 1518.7,196.3 1521.1,197.2 1523.5,197.5 1525.9,197.2 1528.3,196.2 1530.7,194.9 1533.1,193.1 1535.5,191.1 1542.7,184.3 1547.5,180.1 1549.9,178.3 1552.3,177 1554.7,176.1 1557.1,175.8 1559.5,176.1 1561.9,177 1564.3,178.4 1566.7,180.2 1569.1,182.3 1578.7,191.7 1581.1,193.8 1583.5,195.6 1585.9,197.1 1588.3,198 1590.7,198.5 1593.1,198.4 1595.5,198.1 1597.9,197.6 1600.3,196.8"/>
<path stroke="#900088" d="M273.1,1140.5 582.7,1140.5 597.1,1140.4 606.7,1140 611.5,1139.5 616.3,1138.3 618.7,1137.4 621.1,1136.2 623.5,1134.8 625.9,1133 628.3,1131 630.7,1128.6 633.1,1125.8 635.5,1122.7 637.9,1119.3 640.3,1115.5 645.1,1106.9 649.9,1096.7 652.3,1090.9 654.7,1084.4 657.1,1076.4 659.5,1069.2 661.9,1059.7 664.3,1048.6 669.1,1023.8 671.5,1010.4 676.3,981.1 683.5,934.2 688.3,905.1 693.1,878 697.9,852.9 700.3,839.2 702.7,823.1 705.1,805.4 709.9,764.2 712.3,746 717.1,714.3 724.3,661.7 726.7,638.4 731.5,606.6 736.3,573.1 741.1,542.9 743.5,526 745.9,506.3 748.3,491.3 750.7,481.3 753.1,473 755.5,463.9 757.9,451 760.3,435.7 762.7,424.9 765.1,415.7 769.9,398.5 779.5,365.4 781.9,355.8 784.3,345.3 789.1,323 791.5,313.5 793.9,307.9 796.3,304 801.1,297.5 803.5,293 805.9,285.6 808.3,276.3 810.7,267.7 813.1,261.7 815.5,258.9 817.9,257.6 820.3,257.4 822.7,259.3 825.1,263.5 827.5,265.6 829.9,263.5 832.3,258.9 839.5,242 841.9,237 844.3,232.9 846.7,229.9 849.1,228.5 851.5,229.3 853.9,232.6 856.3,236.9 858.7,240.1 861.1,240.2 863.5,237.3 865.9,232.5 870.7,221.4 873.1,216.6 875.5,212.9 877.9,210.8 880.3,210.6 882.7,212.6 885.1,216.8 887.5,221.9 889.9,226.2 892.3,227.9 894.7,226.4 897.1,222.5 901.9,212 904.3,207.2 906.7,203.6 909.1,201.6 911.5,201.5 913.9,203.3 916.3,206.9 921.1,216.2 923.5,219.7 925.9,221.1 928.3,220.1 930.7,216.8 933.1,212.1 937.9,202 940.3,198.5 942.7,196.9 945.1,197.4 947.5,200 949.9,204 954.7,213 957.1,216.4 959.5,218.1 961.9,217.8 964.3,215.6 966.7,211.7 971.5,201.8 973.9,197.5 976.3,194.6 978.7,193.6 981.1,194.7 983.5,197.6 985.9,201.6 990.7,210.4 993.1,213.7 995.5,215.5 997.9,215.5 1000.3,213.7 1002.7,210.3 1009.9,196.8 1012.3,193.4 1014.7,191.5 1017.1,191.4 1019.5,193 1021.9,196.1 1029.1,208.7 1031.5,211.9 1033.9,213.7 1036.3,213.9 1038.7,212.4 1041.1,209.5 1043.5,205.5 1048.3,196.6 1050.7,192.9 1053.1,190.4 1055.5,189.4 1057.9,190.1 1060.3,192.3 1062.7,195.7 1067.5,204.3 1069.9,208.3 1072.3,211.2 1074.7,212.6 1077.1,212.3 1079.5,210.3 1081.9,207 1089.1,194.1 1091.5,190.8 1093.9,188.6 1096.3,188 1098.7,188.8 1101.1,191 1103.5,194.2 1110.7,205.7 1113.1,208.6 1115.5,210.4 1117.9,210.8 1120.3,210 1122.7,207.8 1125.1,204.7 1132.3,192.7 1134.7,189.3 1137.1,187 1139.5,186.1 1141.9,186.6 1144.3,188.5 1146.7,191.6 1153.9,203.4 1156.3,206.5 1158.7,208.7 1161.1,209.7 1163.5,209.3 1165.9,207.6 1168.3,204.8 1170.7,201.2 1175.5,193.1 1177.9,189.5 1180.3,186.7 1182.7,185.1 1185.1,184.9 1187.5,186.1 1189.9,188.6 1192.3,192 1197.1,200 1199.5,203.6 1201.9,206.5 1204.3,208.4 1206.7,209 1209.1,208.5 1211.5,206.7 1213.9,204 1216.3,200.5 1221.1,192.8 1223.5,189.2 1225.9,186.3 1228.3,184.3 1230.7,183.5 1233.1,183.8 1235.5,185.3 1237.9,187.8 1240.3,191.1 1247.5,202.3 1249.9,205.3 1252.3,207.5 1254.7,208.5 1257.1,208.4 1259.5,207 1261.9,204.5 1264.3,201.2 1271.5,189.9 1273.9,186.7 1276.3,184.4 1278.7,183.1 1281.1,182.8 1283.5,183.6 1285.9,185.3 1288.3,187.8 1290.7,190.8 1297.9,200.9 1300.3,203.7 1302.7,205.8 1305.1,207 1307.5,207.2 1309.9,206.4 1312.3,204.7 1314.7,202.2 1317.1,199.1 1324.3,188.8 1326.7,186 1329.1,183.8 1331.5,182.6 1333.9,182.2 1336.3,182.9 1338.7,184.5 1341.1,187 1343.5,190 1350.7,200.2 1353.1,203 1355.5,205.1 1357.9,206.5 1360.3,206.9 1362.7,206.3 1365.1,204.9 1367.5,202.7 1369.9,199.9 1377.1,190.4 1379.5,187.5 1381.9,185.2 1384.3,183.6 1386.7,182.8 1389.1,182.7 1391.5,183.4 1393.9,184.7 1396.3,186.6 1398.7,189 1408.3,200.2 1410.7,202.6 1413.1,204.6 1415.5,206 1417.9,206.7 1420.3,206.5 1422.7,205.6 1425.1,203.9 1427.5,201.6 1429.9,198.7 1437.1,189.3 1439.5,186.6 1441.9,184.5 1444.3,183 1446.7,182.3 1449.1,182.3 1451.5,183.1 1453.9,184.7 1456.3,186.8 1458.7,189.4 1465.9,198.3 1468.3,201 1470.7,203.3 1473.1,205.1 1475.5,206.2 1477.9,206.5 1480.3,206.1 1482.7,205 1485.1,203.1 1487.5,200.7 1489.9,197.9 1497.1,188.9 1499.5,186.3 1501.9,184.2 1504.3,182.6 1506.7,181.8 1509.1,181.6 1511.5,182.1 1513.9,183.3 1516.3,185 1518.7,187.3 1521.1,189.8 1528.3,198.3 1530.7,200.8 1533.1,203 1535.5,204.8 1537.9,205.9 1540.3,206.5 1542.7,206.4 1545.1,205.7 1547.5,204.4 1549.9,202.7 1552.3,200.5 1554.7,198 1561.9,189.8 1564.3,187.3 1566.7,185.1 1569.1,183.3 1571.5,182 1573.9,181.4 1576.3,181.6 1578.7,182.5 1581.1,184.2 1583.5,186.5 1585.9,189.3 1593.1,199.1 1595.5,202 1597.9,204.3 1600.3,205.9"/>
<path stroke="#900000" d="M273.1,1140.5 580.3,1140.5 594.7,1140.4 604.3,1140.1 609.1,1139.7 613.9,1138.7 616.3,1137.9 618.7,1136.9 621.1,1135.6 623.5,1134.1 625.9,1132.2 628.3,1130 630.7,1127.4 633.1,1124.5 637.9,1117.7 642.7,1109.5 647.5,1099.8 649.9,1094.3 652.3,1088.3 654.7,1081.5 659.5,1065.5 661.9,1055.4 664.3,1043.7 669.1,1018.3 673.9,990 681.1,942.9 688.3,899.2 690.7,885.5 697.9,847.3 700.3,832.7 705.1,797.5 709.9,756.1 714.7,723.9 721.9,672.3 726.7,631 729.1,615.9 736.3,566.6 741.1,536.3 745.9,499 748.3,486.8 753.1,469.5 755.5,459.3 757.9,443.8 760.3,430.9 762.7,420.9 769.9,394.9 777.1,370.5 779.5,361.5 784.3,340.9 789.1,318.3 791.5,311 793.9,306.2 796.3,303.1 798.7,300.7 801.1,297.8 803.5,293.3 805.9,285.5 808.3,276.9 810.7,270 813.1,266.1 815.5,265 817.9,265.2 820.3,266.2 822.7,268.3 825.1,265.4 827.5,258 829.9,250 832.3,244 834.7,240 837.1,237.6 839.5,236.5 841.9,236.5 844.3,237.4 846.7,238.9 849.1,240.9 851.5,242.6 853.9,242.6 856.3,239.6 858.7,233.6 861.1,226.4 863.5,220.1 865.9,216 868.3,213.8 870.7,213.5 873.1,214.8 875.5,217.3 880.3,224 882.7,226.9 885.1,228.2 887.5,226.8 889.9,222.3 894.7,209.7 897.1,204.9 899.5,202.3 901.9,201.8 904.3,203.2 906.7,206 913.9,217.3 916.3,219.8 918.7,220.4 921.1,218.7 923.5,214.9 928.3,204.3 930.7,199.8 933.1,196.9 935.5,196.1 937.9,197.5 940.3,200.7 945.1,209.6 947.5,213.5 949.9,216.2 952.3,216.9 954.7,215.7 957.1,212.7 959.5,208.5 964.3,198.9 966.7,195.2 969.1,193.1 971.5,192.9 973.9,194.6 976.3,197.9 981.1,206.8 983.5,210.8 985.9,213.4 988.3,214.4 990.7,213.6 993.1,211 995.5,207.2 1000.3,198.1 1002.7,194.1 1005.1,191.3 1007.5,190.1 1009.9,190.7 1012.3,192.9 1014.7,196.4 1019.5,205 1021.9,208.7 1024.3,211.3 1026.7,212.5 1029.1,211.9 1031.5,209.8 1033.9,206.5 1041.1,193.8 1043.5,190.5 1045.9,188.6 1048.3,188.2 1050.7,189.4 1053.1,192 1055.5,195.6 1060.3,204 1062.7,207.6 1065.1,210.1 1067.5,211.1 1069.9,210.5 1072.3,208.3 1074.7,204.8 1079.5,196 1081.9,191.9 1084.3,188.8 1086.7,187 1089.1,186.8 1091.5,188 1093.9,190.5 1096.3,194 1101.1,201.9 1103.5,205.3 1105.9,207.9 1108.3,209.2 1110.7,209.3 1113.1,208 1115.5,205.5 1117.9,202.1 1125.1,190.5 1127.5,187.5 1129.9,185.5 1132.3,184.8 1134.7,185.5 1137.1,187.5 1139.5,190.6 1146.7,202.2 1149.1,205.3 1151.5,207.3 1153.9,208 1156.3,207.4 1158.7,205.5 1161.1,202.6 1163.5,199 1168.3,191.2 1170.7,187.7 1173.1,185.1 1175.5,183.7 1177.9,183.4 1180.3,184.6 1182.7,187 1185.1,190.3 1189.9,198.2 1192.3,201.9 1194.7,204.8 1197.1,206.7 1199.5,207.3 1201.9,206.6 1204.3,204.8 1206.7,202 1209.1,198.6 1213.9,190.9 1216.3,187.5 1218.7,184.7 1221.1,182.9 1223.5,182.1 1225.9,182.5 1228.3,184 1230.7,186.5 1233.1,189.7 1240.3,200.6 1242.7,203.6 1245.1,205.7 1247.5,206.7 1249.9,206.6 1252.3,205.4 1254.7,203.1 1257.1,199.9 1264.3,188.6 1266.7,185.4 1269.1,183 1271.5,181.6 1273.9,181.3 1276.3,182.1 1278.7,183.8 1281.1,186.3 1283.5,189.4 1290.7,199.4 1293.1,202.2 1295.5,204.2 1297.9,205.4 1300.3,205.7 1302.7,205 1305.1,203.4 1307.5,201 1309.9,198 1317.1,187.8 1319.5,184.9 1321.9,182.7 1324.3,181.2 1326.7,180.7 1329.1,181.2 1331.5,182.6 1333.9,184.8 1336.3,187.6 1343.5,197.6 1345.9,200.5 1348.3,202.8 1350.7,204.4 1353.1,205 1355.5,204.7 1357.9,203.5 1360.3,201.5 1362.7,198.9 1369.9,189.3 1372.3,186.4 1374.7,183.9 1377.1,182.1 1379.5,181.1 1381.9,180.9 1384.3,181.5 1386.7,182.8 1389.1,184.7 1391.5,187.1 1401.1,198.2 1403.5,200.6 1405.9,202.6 1408.3,204 1410.7,204.8 1413.1,204.9 1415.5,204.3 1417.9,202.9 1420.3,200.9 1422.7,198.3 1432.3,186.4 1434.7,184 1437.1,182.2 1439.5,181.1 1441.9,180.9 1444.3,181.4 1446.7,182.6 1449.1,184.5 1451.5,186.8 1453.9,189.6 1461.1,198.2 1463.5,200.7 1465.9,202.6 1468.3,204 1470.7,204.7 1473.1,204.6 1475.5,203.8 1477.9,202.3 1480.3,200.3 1482.7,197.7 1489.9,188.8 1492.3,186 1494.7,183.6 1497.1,181.8 1499.5,180.5 1501.9,180 1504.3,180.2 1506.7,181 1509.1,182.5 1511.5,184.5 1513.9,186.9 1521.1,195.2 1523.5,197.9 1525.9,200.2 1528.3,202.2 1530.7,203.6 1533.1,204.5 1535.5,204.7 1537.9,204.3 1540.3,203.3 1542.7,201.8 1545.1,199.8 1547.5,197.5 1557.1,187 1559.5,184.7 1561.9,182.8 1564.3,181.2 1566.7,180.2 1569.1,179.9 1571.5,180.2 1573.9,181.1 1576.3,182.8 1578.7,185 1581.1,187.8 1588.3,197.2 1590.7,200 1593.1,202.3 1595.5,203.9 1597.9,204.7 1600.3,204.5"/>
<path stroke="#808000" d="M273.1,1140.5 577.9,1140.5 592.3,1140.4 601.9,1140.1 606.7,1139.6 611.5,1138.5 613.9,1137.7 616.3,1136.7 618.7,1135.4 621.1,1133.7 623.5,1131.8 625.9,1129.5 628.3,1126.8 630.7,1123.8 633.1,1120.4 635.5,1116.7 640.3,1108 645.1,1097.8 649.9,1085.9 652.3,1079.1 654.7,1071.6 659.5,1054.1 661.9,1043.4 664.3,1030.7 669.1,1001.5 676.3,954.1 683.5,909.9 688.3,882.3 693.1,857.2 695.5,843.7 697.9,828.3 700.3,811 702.7,792.1 707.5,751.7 712.3,719.9 719.5,668 721.9,645.7 724.3,627.1 726.7,612 731.5,578.6 738.7,532.2 741.1,512.7 743.5,495.4 745.9,484.3 750.7,467.2 753.1,456.2 755.5,439.9 757.9,428.1 760.3,418.2 762.7,409.4 767.5,393.7 769.9,386.8 777.1,367.5 779.5,360.5 784.3,345.4 786.7,337.3 789.1,328.4 798.7,290 801.1,283.3 803.5,278.2 805.9,276 810.7,274.6 813.1,273.3 815.5,270.9 817.9,267.5 820.3,262.3 822.7,254 825.1,246.8 827.5,241.2 829.9,236.4 832.3,234.3 834.7,235 837.1,236.7 841.9,241.1 844.3,242.6 846.7,242.8 849.1,239.9 851.5,234.4 856.3,220.3 858.7,214.1 861.1,210.1 863.5,209.3 865.9,210.8 868.3,213.6 873.1,219.7 875.5,221.6 877.9,221.8 880.3,219.3 882.7,214.8 887.5,203.6 889.9,198.8 892.3,195.8 894.7,195.5 897.1,197.3 899.5,200.4 904.3,207.8 906.7,210.6 909.1,212 911.5,211.2 913.9,208.3 916.3,204.1 921.1,194.7 923.5,190.9 925.9,188.6 928.3,188.6 930.7,190.6 933.1,194 937.9,202.2 940.3,205.6 942.7,207.7 945.1,207.8 947.5,205.7 949.9,202.2 957.1,189.1 959.5,186 961.9,184.5 964.3,185.2 966.7,187.7 969.1,191.4 973.9,199.7 976.3,203.1 978.7,205.2 981.1,205.3 983.5,203.5 985.9,200.3 993.1,187.9 995.5,184.6 997.9,182.5 1000.3,182.2 1002.7,183.9 1005.1,187 1012.3,199.1 1014.7,202.2 1017.1,203.9 1019.5,203.6 1021.9,201.6 1024.3,198.3 1031.5,185.8 1033.9,182.5 1036.3,180.5 1038.7,180.4 1041.1,181.9 1043.5,184.7 1045.9,188.4 1050.7,196.3 1053.1,199.7 1055.5,202 1057.9,203 1060.3,202.2 1062.7,199.8 1065.1,196.4 1072.3,184.2 1074.7,181 1077.1,179 1079.5,178.6 1081.9,179.7 1084.3,182 1086.7,185.1 1093.9,195.9 1096.3,199 1098.7,201.1 1101.1,202.2 1103.5,201.6 1105.9,199.3 1108.3,195.7 1115.5,182.7 1117.9,179.3 1120.3,177.2 1122.7,176.8 1125.1,178 1127.5,180.3 1129.9,183.5 1137.1,194.6 1139.5,197.8 1141.9,200.1 1144.3,201.2 1146.7,200.8 1149.1,198.9 1151.5,195.7 1153.9,191.8 1158.7,183.4 1161.1,179.7 1163.5,176.9 1165.9,175.5 1168.3,175.7 1170.7,177.1 1173.1,179.5 1175.5,182.6 1182.7,193.2 1185.1,196.3 1187.5,198.6 1189.9,200 1192.3,200.2 1194.7,198.8 1197.1,196.3 1199.5,192.9 1206.7,180.9 1209.1,177.6 1211.5,175.1 1213.9,173.9 1216.3,174.1 1218.7,175.6 1221.1,178 1223.5,181.1 1230.7,191.7 1233.1,194.9 1235.5,197.3 1237.9,198.9 1240.3,199.3 1242.7,198.3 1245.1,196.2 1247.5,193.3 1257.1,179 1259.5,176.2 1261.9,174.2 1264.3,173.4 1266.7,173.9 1269.1,175.4 1271.5,177.7 1273.9,180.6 1281.1,190.5 1283.5,193.5 1285.9,196 1288.3,197.7 1290.7,198.4 1293.1,197.9 1295.5,196.2 1297.9,193.6 1300.3,190.3 1307.5,179.4 1309.9,176.4 1312.3,174 1314.7,172.7 1317.1,172.6 1319.5,173.6 1321.9,175.5 1324.3,178 1326.7,180.9 1333.9,190.5 1336.3,193.3 1338.7,195.5 1341.1,197 1343.5,197.5 1345.9,197 1348.3,195.5 1350.7,193.4 1353.1,190.7 1362.7,178.3 1365.1,175.7 1367.5,173.8 1369.9,172.7 1372.3,172.6 1374.7,173.4 1377.1,174.9 1379.5,177 1381.9,179.6 1391.5,191.4 1393.9,193.9 1396.3,196 1398.7,197.4 1401.1,198 1403.5,197.7 1405.9,196.4 1408.3,194.5 1410.7,191.9 1420.3,179.7 1422.7,177 1425.1,174.8 1427.5,173.3 1429.9,172.5 1432.3,172.7 1434.7,173.8 1437.1,175.4 1439.5,177.6 1441.9,180.2 1451.5,191.4 1453.9,193.7 1456.3,195.6 1458.7,196.9 1461.1,197.4 1463.5,197 1465.9,195.8 1468.3,193.9 1470.7,191.5 1473.1,188.7 1480.3,179.5 1482.7,176.8 1485.1,174.4 1487.5,172.7 1489.9,171.7 1492.3,171.6 1494.7,172.3 1497.1,173.7 1499.5,175.7 1501.9,178.1 1504.3,180.8 1511.5,189.4 1513.9,192 1516.3,194.2 1518.7,195.9 1521.1,197 1523.5,197.4 1525.9,197 1528.3,195.9 1530.7,194.2 1533.1,192.1 1535.5,189.7 1542.7,181.6 1547.5,176.6 1549.9,174.5 1552.3,172.9 1554.7,171.9 1557.1,171.5 1559.5,171.9 1561.9,173 1564.3,174.6 1566.7,176.7 1569.1,179.2 1578.7,190.3 1581.1,192.9 1583.5,195 1585.9,196.8 1588.3,197.9 1590.7,198.4 1593.1,198.3 1595.5,197.9 1597.9,197.3 1600.3,196.4"/>
<path stroke="#0064a8" d="M273.1,1140.5 580.3,1140.5 594.7,1140.4 604.3,1140.1 609.1,1139.6 613.9,1138.6 616.3,1137.7 618.7,1136.7 621.1,1135.3 623.5,1133.7 625.9,1131.7 628.3,1129.5 630.7,1126.9 633.1,1123.9 637.9,1116.9 642.7,1108.5 647.5,1098.7 649.9,1093.1 652.3,1086.9 654.7,1080 657.1,1071.3 659.5,1063.5 661.9,1053.2 669.1,1014.7 673.9,986.7 681.1,939.8 685.9,910.5 690.7,882.8 695.5,857.7 697.9,844.3 700.3,829.3 705.1,793.3 709.9,752.4 714.7,720.5 721.9,668.7 724.3,646.7 726.7,627.7 729.1,612.7 736.3,563.4 741.1,532.9 743.5,513.6 745.9,496 748.3,484.7 753.1,467.6 755.5,456.8 757.9,440.5 760.3,428.7 762.7,419 765.1,410.3 769.9,393.2 777.1,368.7 779.5,359.5 781.9,349.3 789.1,316.3 791.5,309.8 793.9,305.4 796.3,302.8 801.1,299.9 803.5,296.2 805.9,288.3 810.7,268.1 813.1,260.6 815.5,255.9 817.9,251.9 820.3,249.8 822.7,250.3 827.5,253.2 829.9,254.3 832.3,253.8 834.7,250.6 837.1,245.5 844.3,226.4 846.7,221.6 849.1,218.8 851.5,218.8 853.9,220.7 858.7,226.9 861.1,229.5 863.5,230.7 865.9,229.5 868.3,226 870.7,220.9 875.5,209.4 877.9,204.5 880.3,201.3 882.7,200.6 885.1,202.5 887.5,206.2 892.3,214.8 894.7,217.8 897.1,218.6 899.5,216.9 901.9,213.2 909.1,198.2 911.5,194.2 913.9,192 916.3,192.2 918.7,194.6 921.1,198.3 925.9,207 928.3,210.4 930.7,212.2 933.1,211.6 935.5,208.8 937.9,204.5 942.7,194.6 945.1,190.5 947.5,188 949.9,187.8 952.3,189.7 954.7,193 961.9,205.3 964.3,208.2 966.7,209.6 969.1,208.8 971.5,206 973.9,201.8 978.7,192.3 981.1,188.1 983.5,185.3 985.9,184.5 988.3,185.8 990.7,188.5 993.1,192.3 997.9,200.5 1000.3,204 1002.7,206.4 1005.1,207.1 1007.5,205.8 1009.9,202.9 1012.3,199 1017.1,190 1019.5,186.1 1021.9,183.3 1024.3,182.1 1026.7,182.9 1029.1,185.1 1031.5,188.4 1038.7,200.2 1041.1,203.3 1043.5,205.1 1045.9,205.4 1048.3,203.8 1050.7,200.8 1053.1,197 1057.9,188.4 1060.3,184.6 1062.7,181.8 1065.1,180.5 1067.5,180.9 1069.9,183 1072.3,186.3 1079.5,198.3 1081.9,201.6 1084.3,203.7 1086.7,204.1 1089.1,202.9 1091.5,200.3 1093.9,196.8 1101.1,184.7 1103.5,181.6 1105.9,179.5 1108.3,178.9 1110.7,179.9 1113.1,182 1115.5,185 1122.7,195.7 1125.1,198.8 1127.5,201 1129.9,202.1 1132.3,201.8 1134.7,199.9 1137.1,197 1139.5,193.3 1144.3,185.2 1146.7,181.6 1149.1,178.8 1151.5,177.2 1153.9,177.1 1156.3,178.4 1158.7,180.8 1161.1,184 1168.3,195 1170.7,198.1 1173.1,200.3 1175.5,201.3 1177.9,200.8 1180.3,198.9 1182.7,196 1185.1,192.4 1189.9,184.4 1192.3,180.8 1194.7,178 1197.1,176.2 1199.5,175.9 1201.9,176.9 1204.3,179 1206.7,181.9 1213.9,192.5 1216.3,195.8 1218.7,198.4 1221.1,200.1 1223.5,200.7 1225.9,199.9 1228.3,198 1230.7,195.2 1233.1,191.9 1240.3,180.9 1242.7,177.9 1245.1,175.7 1247.5,174.5 1249.9,174.6 1252.3,176 1254.7,178.4 1257.1,181.4 1264.3,192.3 1266.7,195.5 1269.1,198.1 1271.5,199.8 1273.9,200.3 1276.3,199.6 1278.7,197.9 1281.1,195.4 1283.5,192.3 1290.7,182.1 1293.1,179 1295.5,176.5 1297.9,174.8 1300.3,174 1302.7,174.4 1305.1,175.7 1307.5,177.9 1309.9,180.6 1317.1,190.2 1319.5,193.2 1321.9,195.7 1324.3,197.5 1326.7,198.5 1329.1,198.4 1331.5,197.3 1333.9,195.3 1336.3,192.6 1345.9,179.9 1348.3,177.1 1350.7,175 1353.1,173.7 1355.5,173.4 1357.9,174.2 1360.3,175.8 1362.7,178.1 1365.1,180.8 1372.3,190.2 1374.7,193.1 1377.1,195.6 1379.5,197.5 1381.9,198.6 1384.3,198.7 1386.7,198 1389.1,196.7 1391.5,194.7 1393.9,192.4 1403.5,181.5 1405.9,179.1 1408.3,177 1410.7,175.5 1413.1,174.6 1415.5,174.5 1417.9,175.2 1420.3,176.7 1422.7,178.8 1425.1,181.3 1432.3,190 1434.7,192.7 1437.1,195 1439.5,196.9 1441.9,198 1444.3,198.4 1446.7,197.9 1449.1,196.6 1451.5,194.6 1453.9,192.3 1456.3,189.5 1463.5,180.8 1465.9,178.2 1468.3,176 1470.7,174.2 1473.1,173.2 1475.5,172.9 1477.9,173.5 1480.3,174.8 1482.7,176.8 1485.1,179.2 1494.7,190.5 1497.1,193.1 1499.5,195.3 1501.9,197 1504.3,198.1 1506.7,198.4 1509.1,197.9 1511.5,196.7 1513.9,195 1516.3,192.9 1518.7,190.5 1525.9,182.4 1530.7,177.5 1533.1,175.5 1535.5,174 1537.9,173.1 1540.3,172.9 1542.7,173.5 1545.1,174.6 1547.5,176.3 1549.9,178.4 1552.3,180.7 1559.5,188.6 1564.3,193.5 1566.7,195.5 1569.1,197 1571.5,198 1573.9,198.4 1576.3,198.2 1578.7,197.6 1581.1,196.6 1583.5,195.3 1585.9,193.6 1588.3,191.6 1590.7,189.2 1593.1,186.5 1595.5,183.6 1600.3,176.8"/>
<path stroke="#009696" d="M273.1,1140.5 580.3,1140.5 594.7,1140.4 604.3,1140.1 609.1,1139.7 613.9,1138.8 616.3,1138.1 618.7,1137.2 621.1,1136 623.5,1134.5 625.9,1132.7 628.3,1130.6 630.7,1128.2 633.1,1125.5 637.9,1119 642.7,1111.2 647.5,1102 652.3,1091.3 654.7,1085.1 657.1,1078.3 659.5,1070.7 661.9,1061.8 664.3,1051.3 669.1,1027.8 671.5,1015 676.3,986.9 683.5,940.4 690.7,896.9 693.1,883.7 700.3,847.9 702.7,833.5 707.5,797.5 712.3,756.9 717.1,724.5 724.3,673 729.1,631.7 733.9,600.6 743.5,536.1 745.9,521.2 748.3,507.1 750.7,495 753.1,485.4 757.9,468.4 767.5,427.3 769.9,418.5 772.3,411.7 777.1,399.7 779.5,393 784.3,379.2 789.1,364.5 791.5,356.5 796.3,338.2 798.7,329.9 801.1,323.4 803.5,318.2 805.9,313.5 808.3,309.7 810.7,306.9 813.1,305.3 815.5,304.4 817.9,302.7 820.3,298 822.7,291.8 825.1,286.7 829.9,279 832.3,275.5 834.7,272.7 837.1,271 839.5,270.7 849.1,270.9 851.5,270.1 853.9,267.7 856.3,264.3 861.1,256.5 863.5,253 865.9,250.5 868.3,249.4 870.7,249.8 873.1,250.9 877.9,253.6 880.3,254.3 882.7,254 885.1,252.4 887.5,249.7 892.3,243.3 894.7,240.4 897.1,238.4 899.5,237.6 901.9,238.2 904.3,239.6 909.1,243.5 911.5,245.2 913.9,246.2 916.3,246 918.7,244.6 921.1,242.2 925.9,236.3 928.3,233.6 930.7,231.6 933.1,230.8 935.5,231.3 937.9,232.8 945.1,239.5 947.5,241.3 949.9,242.2 952.3,241.9 954.7,240.3 957.1,237.8 961.9,231.9 964.3,229.4 966.7,227.9 969.1,227.7 971.5,228.6 973.9,230.3 981.1,236.7 983.5,238.2 985.9,239 988.3,238.6 990.7,237.1 993.1,234.8 997.9,229.5 1000.3,227.1 1002.7,225.4 1005.1,224.7 1007.5,225.2 1009.9,226.8 1012.3,228.9 1017.1,233.9 1019.5,236 1021.9,237.5 1024.3,238 1026.7,237.3 1029.1,235.7 1031.5,233.5 1036.3,228.3 1038.7,226 1041.1,224.2 1043.5,223.2 1045.9,223.3 1048.3,224.5 1050.7,226.4 1057.9,233.6 1060.3,235.5 1062.7,236.6 1065.1,236.7 1067.5,235.7 1069.9,233.9 1072.3,231.5 1077.1,226.4 1079.5,224.1 1081.9,222.4 1084.3,221.5 1086.7,221.6 1089.1,222.7 1091.5,224.5 1098.7,231.3 1101.1,233.3 1103.5,234.8 1105.9,235.5 1108.3,235.1 1110.7,233.8 1113.1,231.8 1120.3,224.2 1122.7,222 1125.1,220.4 1127.5,219.8 1129.9,220.2 1132.3,221.5 1134.7,223.3 1141.9,230.3 1144.3,232.3 1146.7,233.9 1149.1,234.6 1151.5,234.5 1153.9,233.5 1156.3,231.8 1158.7,229.6 1165.9,222.5 1168.3,220.6 1170.7,219.4 1173.1,218.9 1175.5,219.4 1177.9,220.7 1180.3,222.6 1187.5,229.9 1189.9,232.1 1192.3,233.8 1194.7,234.9 1197.1,235 1199.5,234.3 1201.9,232.9 1204.3,230.9 1213.9,221.3 1216.3,219.4 1218.7,218.1 1221.1,217.5 1223.5,217.8 1225.9,218.8 1228.3,220.3 1230.7,222.2 1237.9,228.5 1240.3,230.3 1242.7,231.7 1245.1,232.5 1247.5,232.5 1249.9,231.8 1252.3,230.5 1254.7,228.7 1264.3,220.2 1266.7,218.5 1269.1,217.4 1271.5,216.9 1273.9,217.2 1276.3,218.3 1278.7,219.8 1281.1,221.7 1288.3,228.1 1290.7,229.9 1293.1,231.3 1295.5,232.1 1297.9,232.1 1300.3,231.5 1302.7,230.3 1305.1,228.8 1307.5,226.9 1314.7,220.8 1317.1,219 1319.5,217.5 1321.9,216.5 1324.3,216 1326.7,216.3 1329.1,217.3 1331.5,218.9 1333.9,220.9 1341.1,227.8 1343.5,229.7 1345.9,231.2 1348.3,232.1 1350.7,232.1 1353.1,231.5 1355.5,230.3 1357.9,228.7 1367.5,220.7 1369.9,219 1372.3,217.6 1374.7,216.7 1377.1,216.5 1379.5,216.9 1381.9,217.7 1384.3,218.9 1389.1,222 1396.3,227.3 1398.7,228.7 1401.1,230 1403.5,230.8 1405.9,231.2 1408.3,231 1410.7,230.3 1413.1,229.2 1415.5,227.7 1417.9,226 1425.1,220.3 1429.9,217 1432.3,215.8 1434.7,214.9 1437.1,214.6 1439.5,214.9 1441.9,215.7 1444.3,217.1 1446.7,218.8 1449.1,220.8 1456.3,227.2 1458.7,229.1 1461.1,230.7 1463.5,231.8 1465.9,232.5 1468.3,232.5 1470.7,232 1473.1,230.9 1475.5,229.4 1480.3,225.7 1487.5,219.6 1489.9,217.8 1492.3,216.3 1494.7,215.2 1497.1,214.7 1499.5,214.7 1501.9,215.3 1504.3,216.3 1506.7,217.7 1511.5,221.3 1518.7,227.3 1523.5,230.7 1525.9,232 1528.3,232.8 1530.7,233.2 1533.1,233 1535.5,232.3 1537.9,231.1 1540.3,229.7 1542.7,227.9 1552.3,220 1557.1,216.6 1559.5,215.3 1561.9,214.4 1564.3,214 1566.7,214.1 1569.1,214.6 1571.5,215.3 1573.9,216.3 1581.1,221.2 1600.3,233.7"/>
<path stroke="#00cc28" d="M273.1,1140.5 573.1,1140.5 589.9,1140.4 599.5,1140.1 604.3,1139.7 609.1,1138.9 613.9,1137.4 616.3,1136.3 618.7,1135.1 621.1,1133.5 623.5,1131.7 625.9,1129.4 628.3,1126.8 630.7,1123.8 633.1,1120.4 635.5,1116.6 637.9,1112.5 642.7,1102.9 645.1,1097.4 647.5,1091.4 652.3,1077.9 654.7,1070.2 659.5,1051.8 661.9,1040.4 664.3,1026.4 669.1,993.7 678.7,922.8 685.9,873.4 690.7,838.5 693.1,819.6 695.5,796.9 702.7,712.9 705.1,682.3 707.5,655.5 709.9,634.7 712.3,620 717.1,594.4 719.5,578.2 721.9,559.6 724.3,544.2 729.1,517.5 733.9,485.3 736.3,471.8 738.7,460.4 741.1,451.5 743.5,444.9 745.9,439.8 748.3,436.1 750.7,433.6 753.1,430.8 755.5,425.3 757.9,414.5 760.3,406.7 762.7,401.5 765.1,390.5 767.5,376.8 769.9,369.4 772.3,363.6 774.7,360.5 777.1,360.4 781.9,360.7 784.3,360.4 786.7,356 789.1,348.5 791.5,339.9 798.7,316.8 801.1,312 803.5,312 805.9,313.9 810.7,319.1 813.1,320.8 815.5,320.7 817.9,317.4 820.3,311.8 825.1,297.4 827.5,290.8 829.9,285.9 832.3,284 834.7,285.3 837.1,288.6 841.9,297.1 844.3,300.2 846.7,301.2 849.1,299.2 851.5,295 853.9,289.3 858.7,277.1 861.1,272.3 863.5,269.5 865.9,269.5 868.3,272.2 870.7,276.6 875.5,286.5 877.9,290 880.3,291.2 882.7,289.4 885.1,285.3 887.5,279.7 892.3,267.6 894.7,262.9 897.1,260.3 899.5,260.5 901.9,263.1 904.3,267.3 909.1,277.2 911.5,281.3 913.9,283.6 916.3,283.3 918.7,280.6 921.1,276.2 925.9,265.4 928.3,260.4 930.7,256.8 933.1,255.2 935.5,256.2 937.9,259.2 940.3,263.6 945.1,273.5 947.5,277.7 949.9,280.4 952.3,281 954.7,279.3 957.1,275.7 959.5,270.9 964.3,260.4 966.7,255.9 969.1,252.8 971.5,251.7 973.9,253 976.3,256.2 978.7,260.6 983.5,270.4 985.9,274.4 988.3,276.8 990.7,277 993.1,275.1 995.5,271.7 997.9,267.2 1002.7,257.3 1005.1,252.9 1007.5,249.6 1009.9,248 1012.3,248.5 1014.7,250.9 1017.1,254.8 1024.3,268.8 1026.7,272.2 1029.1,274 1031.5,273.6 1033.9,271.4 1036.3,267.8 1038.7,263.3 1043.5,253.5 1045.9,249.1 1048.3,245.9 1050.7,244.2 1053.1,244.4 1055.5,246.5 1057.9,250 1065.1,263.4 1067.5,267.2 1069.9,269.9 1072.3,270.9 1074.7,269.9 1077.1,267.1 1079.5,263 1086.7,248.4 1089.1,244.4 1091.5,241.7 1093.9,240.7 1096.3,241.6 1098.7,244 1101.1,247.4 1108.3,260 1110.7,263.7 1113.1,266.4 1115.5,267.9 1117.9,267.6 1120.3,265.6 1122.7,262 1125.1,257.3 1127.5,251.7 1134.7,232.9 1137.1,227 1139.5,221.8 1141.9,217.6 1144.3,214.8 1146.7,213.6 1149.1,214.6 1151.5,217.9 1153.9,222.8 1156.3,229 1161.1,242.4 1163.5,248.6 1165.9,253.7 1168.3,257.1 1170.7,258.3 1173.1,257.4 1175.5,255.2 1182.7,245.9 1185.1,243.6 1187.5,242.4 1189.9,242.9 1192.3,244.6 1194.7,247.2 1197.1,250.5 1201.9,257.8 1204.3,261 1206.7,263.6 1209.1,265.2 1211.5,265.5 1213.9,264.4 1216.3,262 1218.7,258.6 1221.1,254.7 1228.3,241.7 1230.7,238 1233.1,235.1 1235.5,233.3 1237.9,232.8 1240.3,233.8 1242.7,236 1245.1,239.1 1254.7,254.6 1257.1,257.7 1259.5,260 1261.9,261.1 1264.3,260.9 1266.7,259.5 1269.1,257.2 1271.5,254.3 1281.1,239.7 1283.5,236.5 1285.9,233.9 1288.3,232.2 1290.7,231.4 1293.1,231.7 1295.5,232.8 1297.9,234.4 1302.7,238.1 1305.1,239.6 1307.5,240.6 1309.9,240.8 1312.3,239.4 1314.7,236.2 1317.1,231.6 1319.5,226 1329.1,199.6 1331.5,193.6 1333.9,188.4 1336.3,184.5 1338.7,182.2 1341.1,181.7 1343.5,184 1345.9,189.1 1348.3,196.4 1350.7,205.6 1353.1,216.3 1355.5,227.9 1362.7,264.7 1365.1,276.2 1367.5,286.4 1369.9,295.2 1372.3,301.9 1374.7,306.2 1377.1,307.6 1379.5,306.4 1381.9,303.3 1384.3,298.6 1386.7,292.7 1389.1,285.8 1396.3,263.1 1398.7,256 1401.1,249.7 1403.5,244.5 1405.9,240.7 1408.3,238.8 1410.7,238.8 1413.1,240 1415.5,241.9 1425.1,252.5 1427.5,254.5 1429.9,255.7 1432.3,255.9 1434.7,255.1 1437.1,253.5 1439.5,251.1 1441.9,248.2 1446.7,241.2 1453.9,229.8 1456.3,226.4 1458.7,223.4 1461.1,220.9 1463.5,219 1465.9,218 1468.3,218 1470.7,219 1473.1,220.8 1475.5,223.4 1477.9,226.4 1487.5,240.2 1489.9,243.2 1492.3,245.6 1494.7,247.3 1497.1,248.2 1499.5,248 1501.9,246.8 1504.3,245 1506.7,242.4 1509.1,239.4 1511.5,236.1 1518.7,225.1 1523.5,218.6 1525.9,215.9 1528.3,213.9 1530.7,212.5 1533.1,212.1 1535.5,212.7 1537.9,214.2 1540.3,216.5 1542.7,219.3 1552.3,232.4 1554.7,236.7 1557.1,236.3 1559.5,224 1561.9,216 1564.3,214.5 1571.5,213 1600.3,206.2"/>
<path stroke="#dc1c7c" d="M273.1,1140.5 570.7,1140.5 587.5,1140.4 597.1,1140.2 601.9,1139.9 606.7,1139.2 611.5,1138 613.9,1137 616.3,1135.8 618.7,1134.4 621.1,1132.6 623.5,1130.5 625.9,1128 628.3,1125 630.7,1121.2 633.1,1117 635.5,1112.2 637.9,1106.9 640.3,1101.1 642.7,1094.6 645.1,1087.4 647.5,1079.5 649.9,1070.7 654.7,1051.5 659.5,1027.5 661.9,1012.3 664.3,994.3 671.5,930.8 673.9,914.4 678.7,884.7 681.1,866.7 688.3,808.1 695.5,758.2 697.9,740 700.3,720 702.7,697.4 709.9,659.7 712.3,649.7 717.1,632.9 719.5,625.1 721.9,615.8 724.3,604.9 726.7,591.5 731.5,552.6 733.9,535.9 736.3,526.9 738.7,521.1 741.1,517.8 743.5,515.6 745.9,513.7 748.3,511.2 750.7,507.9 753.1,504 755.5,498.2 757.9,485.4 760.3,466.3 762.7,456.7 765.1,451.3 767.5,447.8 769.9,447.4 772.3,449 774.7,450.9 777.1,452.2 779.5,451.4 781.9,447.7 784.3,441.9 786.7,435 789.1,422.7 791.5,413.5 793.9,408.8 796.3,406 798.7,405.7 801.1,407.9 805.9,415.1 808.3,418.1 810.7,419.3 813.1,417.3 815.5,412.2 817.9,405.3 822.7,390.2 825.1,384.2 827.5,380.8 829.9,380.9 832.3,383.8 834.7,388.4 837.1,393.7 839.5,398.5 841.9,401.7 844.3,402.2 846.7,399.6 849.1,394.6 856.3,375.1 858.7,370.1 861.1,367.5 863.5,368 865.9,371 868.3,375.7 873.1,386.3 875.5,390.3 877.9,392.2 880.3,391.2 882.7,387.6 885.1,382.3 889.9,369.8 892.3,364.2 894.7,360.2 897.1,358.6 899.5,359.9 901.9,363.5 904.3,368.6 909.1,379.5 911.5,383.7 913.9,385.9 916.3,385.3 918.7,382.2 921.1,377.3 928.3,359.7 930.7,355.4 933.1,353 935.5,353.3 937.9,356 940.3,360.3 945.1,370.8 947.5,375.5 949.9,378.9 952.3,380.2 954.7,378.9 957.1,375.5 959.5,370.5 964.3,358.9 966.7,353.5 969.1,349.3 971.5,346.9 973.9,347 976.3,349.5 978.7,353.6 985.9,369.2 988.3,373.1 990.7,375.2 993.1,374.9 995.5,372.4 997.9,368.3 1000.3,363.1 1005.1,351.7 1007.5,346.8 1009.9,343 1012.3,341 1014.7,341.3 1017.1,343.7 1019.5,347.6 1026.7,362.7 1029.1,366.8 1031.5,369.6 1033.9,370.4 1036.3,368.9 1038.7,365.5 1041.1,360.9 1048.3,344.5 1050.7,339.9 1053.1,336.7 1055.5,335.4 1057.9,336.2 1060.3,338.7 1062.7,342.4 1069.9,356.2 1072.3,360.2 1074.7,363.2 1077.1,364.7 1079.5,364.2 1081.9,361.7 1084.3,357.7 1086.7,352.6 1091.5,341.5 1093.9,336.5 1096.3,332.6 1098.7,330.2 1101.1,330 1103.5,332 1108.3,338.2 1110.7,339.8 1113.1,338.1 1115.5,331.6 1117.9,321.6 1125.1,285.6 1127.5,276.5 1129.9,271.2 1132.3,270.8 1134.7,272.9 1137.1,277 1139.5,282.7 1141.9,289.7 1144.3,297.7 1146.7,306.5 1153.9,334.5 1158.7,351.7 1161.1,359 1163.5,365.1 1165.9,369.7 1168.3,372.4 1170.7,373.1 1173.1,371.7 1175.5,368.6 1177.9,364.3 1180.3,359 1187.5,341.1 1189.9,335.6 1192.3,331 1194.7,327.6 1197.1,325.8 1199.5,325.8 1201.9,327.4 1204.3,330.2 1206.7,333.8 1213.9,346.4 1216.3,350.1 1218.7,353 1221.1,354.8 1223.5,355.1 1225.9,353.9 1228.3,351.3 1230.7,347.7 1233.1,343.4 1240.3,329.1 1242.7,324.8 1245.1,321.3 1247.5,318.9 1249.9,317.7 1252.3,318.4 1254.7,321.2 1257.1,325.5 1264.3,341.7 1266.7,346.3 1269.1,349.5 1271.5,350.9 1273.9,349.5 1276.3,345 1278.7,337.9 1281.1,328.6 1283.5,317.6 1285.9,305.1 1295.5,250.5 1297.9,237.8 1300.3,226.4 1302.7,216.6 1305.1,208.9 1307.5,203.7 1309.9,201.5 1312.3,203.1 1314.7,209 1317.1,218.7 1319.5,231.5 1321.9,247.1 1324.3,264.8 1326.7,284.1 1336.3,365.7 1338.7,384.5 1341.1,401.5 1343.5,416.3 1345.9,428.2 1348.3,436.6 1350.7,441.1 1353.1,441.2 1355.5,437.8 1357.9,431.7 1360.3,423.9 1367.5,398.1 1374.7,378.8 1377.1,373.5 1379.5,370.6 1381.9,370.2 1384.3,368.8 1386.7,366.6 1389.1,362.5 1393.9,357.5 1396.3,353.4 1398.7,350 1403.5,338.1 1405.9,333.4 1408.3,327.7 1410.7,320.7 1413.1,312.7 1415.5,307.9 1417.9,304.4 1420.3,301.7 1422.7,299.9 1427.5,303.3 1429.9,302.7 1432.3,303.8 1434.7,307.8 1437.1,309.9 1439.5,311 1441.9,313.8 1444.3,316.8 1449.1,325.2 1453.9,330.4 1456.3,329.8 1461.1,329.3 1463.5,324.6 1465.9,321 1468.3,318.1 1470.7,314.1 1473.1,311.9 1475.5,307.1 1477.9,301.7 1480.3,298.1 1482.7,292.2 1485.1,290.1 1487.5,287.6 1489.9,287.2 1494.7,289.4 1497.1,289.5 1499.5,291.3 1501.9,294.3 1504.3,300.4 1506.7,306 1509.1,309.1 1511.5,313.8 1513.9,317.6 1516.3,318.5 1518.7,318.8 1521.1,321 1523.5,321.4 1525.9,319.1 1528.3,318.8 1530.7,317 1533.1,312.7 1535.5,309.9 1537.9,309.1 1540.3,309.6 1542.7,308.5 1545.1,308.1 1547.5,307.1 1549.9,306.5 1552.3,307.2 1554.7,306.7 1557.1,305.7 1559.5,306.3 1561.9,307.7 1564.3,306.9 1566.7,316.1 1569.1,321.4 1571.5,318.3 1573.9,314.6 1576.3,308.5 1578.7,305 1581.1,306.5 1583.5,307.1 1585.9,304.7 1588.3,311.6 1590.7,319.8 1595.5,317.7 1597.9,315.3 1600.3,311.4"/>
<path stroke="#00c8d0" d="M273.1,1140.5 568.3,1140.5 585.1,1140.4 594.7,1140.2 601.9,1139.8 606.7,1139 611.5,1137.7 613.9,1136.7 616.3,1135.6 618.7,1134.2 621.1,1132.5 623.5,1130.5 625.9,1128.2 628.3,1125.5 630.7,1122.2 633.1,1118.3 635.5,1113.8 637.9,1108.8 640.3,1103 642.7,1096.5 645.1,1088.9 647.5,1080.1 649.9,1069.1 652.3,1056.1 654.7,1041.4 657.1,1023.5 659.5,1002.1 661.9,977.2 664.3,947.8 666.7,921 669.1,899.2 678.7,822.6 685.9,756.3 688.3,738.1 690.7,723.1 693.1,710.3 695.5,699.3 700.3,680 709.9,645.1 712.3,631.7 714.7,615 717.1,600 719.5,589.7 721.9,583.6 724.3,579 726.7,575.2 729.1,571.8 733.9,566.5 736.3,562 738.7,553.3 741.1,543.2 743.5,531.7 745.9,522.2 748.3,516.9 750.7,512.7 753.1,510.7 755.5,510.8 762.7,511.7 765.1,511.2 767.5,507 769.9,500.4 772.3,492.9 774.7,482.3 777.1,476.6 779.5,472.3 781.9,469.9 784.3,470.1 786.7,471.8 791.5,476.8 793.9,478.7 796.3,479.1 798.7,476.8 801.1,472 808.3,453.1 810.7,448.7 813.1,446.9 815.5,447.8 817.9,450.1 822.7,456.8 825.1,459.9 827.5,461.9 829.9,462.3 832.3,460.2 834.7,456.3 841.9,440.6 844.3,436.7 846.7,434.6 849.1,435.1 851.5,437.5 853.9,441.2 858.7,449.2 861.1,452.1 863.5,453.1 865.9,451.8 868.3,448.5 870.7,443.9 875.5,433.7 877.9,429.4 880.3,426.6 882.7,425.8 885.1,427.3 887.5,430.3 894.7,442.3 897.1,445.2 899.5,446.3 901.9,445.3 904.3,442.4 906.7,438.4 911.5,428.9 913.9,424.7 916.3,421.7 918.7,420.4 921.1,421.2 923.5,423.6 925.9,427 930.7,434.9 933.1,438.3 935.5,440.5 937.9,441.1 940.3,439.7 942.7,436.8 945.1,432.8 949.9,423.8 952.3,419.7 954.7,416.5 957.1,414.8 959.5,414.9 961.9,416.8 964.3,419.8 971.5,431.2 973.9,434.2 976.3,435.9 978.7,435.9 981.1,434.2 983.5,431.1 985.9,427.3 990.7,418.6 993.1,414.7 995.5,411.6 997.9,409.7 1000.3,409.6 1002.7,411.1 1005.1,414 1012.3,425.4 1014.7,428.5 1017.1,430.6 1019.5,431.2 1021.9,430 1024.3,427.5 1026.7,424.1 1033.9,411.8 1036.3,408.3 1038.7,405.8 1041.1,404.5 1043.5,404.8 1045.9,406.5 1048.3,409.3 1055.5,420 1057.9,423.1 1060.3,425.4 1062.7,426.4 1065.1,425.7 1067.5,423.4 1069.9,419.9 1077.1,406.8 1079.5,403.2 1081.9,400.7 1084.3,399.8 1086.7,400.6 1091.5,404 1093.9,405 1096.3,403.4 1098.7,397.6 1101.1,388.8 1105.9,367.6 1108.3,357.9 1110.7,350.6 1113.1,347 1115.5,347.2 1117.9,349.1 1120.3,352.3 1122.7,356.6 1125.1,361.8 1127.5,367.8 1132.3,381.2 1139.5,402.3 1144.3,414.8 1146.7,420 1149.1,424.3 1151.5,427.5 1153.9,429.4 1156.3,429.8 1158.7,428.7 1161.1,426.5 1163.5,423.3 1165.9,419.5 1173.1,406.5 1175.5,402.6 1177.9,399.3 1180.3,396.9 1182.7,395.6 1185.1,395.7 1187.5,396.8 1189.9,398.7 1192.3,401.2 1199.5,409.8 1201.9,412.3 1204.3,414.1 1206.7,415.2 1209.1,415.1 1211.5,413.9 1213.9,411.7 1216.3,408.8 1225.9,394.9 1228.3,392 1230.7,390 1233.1,388.9 1235.5,389.1 1237.9,390.5 1240.3,392.8 1242.7,395.8 1249.9,405.6 1252.3,408.3 1254.7,410.1 1257.1,410.8 1259.5,409.4 1261.9,405.1 1264.3,398.5 1266.7,389.9 1269.1,379.7 1271.5,368.3 1278.7,331.5 1283.5,308.8 1285.9,299.3 1288.3,291.5 1290.7,285.9 1293.1,282.9 1295.5,283 1297.9,286.7 1300.3,293.6 1302.7,303.5 1305.1,315.7 1307.5,329.9 1309.9,345.7 1321.9,432.7 1324.3,448.7 1326.7,463.3 1329.1,476 1331.5,486.3 1333.9,493.9 1336.3,498.3 1338.7,499 1341.1,494.7 1343.5,486.3 1350.7,453.1 1353.1,445 1355.5,439.8 1357.9,435.2 1360.3,431.1 1362.7,427.7 1365.1,425.1 1367.5,423.3 1369.9,422.1 1374.7,420.6 1377.1,419 1379.5,417.9 1381.9,415.7 1386.7,405 1393.9,392.4 1396.3,387.2 1398.7,381.3 1401.1,376.8 1405.9,375 1408.3,373 1410.7,372.6 1413.1,373.5 1415.5,372.7 1417.9,373.9 1420.3,377.8 1425.1,381 1427.5,383 1429.9,386.3 1432.3,387.5 1434.7,388.4 1437.1,390.7 1439.5,392.1 1441.9,391.8 1444.3,390.2 1446.7,389.6 1449.1,386.8 1453.9,383 1456.3,379.9 1461.1,368.9 1463.5,366.7 1465.9,364 1468.3,362.4 1470.7,362.6 1473.1,360.8 1475.5,359.8 1477.9,360.4 1480.3,360.3 1482.7,361.2 1485.1,364.7 1487.5,367.1 1489.9,368.4 1492.3,371.1 1494.7,375.6 1497.1,379.6 1499.5,381.5 1501.9,382 1504.3,384.3 1506.7,384.5 1509.1,385.6 1511.5,384.9 1513.9,384.3 1516.3,381.9 1518.7,377.8 1521.1,372.9 1523.5,327.6 1525.9,325.1 1528.3,323.5 1530.7,323.2 1535.5,358.6 1537.9,361.9 1540.3,362.9 1545.1,367.8 1547.5,369.3 1549.9,369.5 1552.3,363.3 1554.7,355 1557.1,347.6 1559.5,342.1 1561.9,334.7 1564.3,331.7 1566.7,342.6 1569.1,365.4 1571.5,386 1573.9,387.3 1576.3,377.4 1578.7,378.6 1581.1,380.3 1583.5,379.3 1585.9,372.7 1588.3,367.1 1593.1,365.6 1595.5,363.2 1597.9,362.2 1600.3,362"/>
</g>
<g font-size="45.3px">
<text x="240.5" y="1154.8" text-anchor="end">0</text>
<text x="240.5" y="941.4" text-anchor="end">20</text>
<text x="240.5" y="728.0" text-anchor="end">40</text>
<text x="240.5" y="514.6" text-anchor="end">60</text>
<text x="240.5" y="301.2" text-anchor="end">80</text>
<text x="240.5" y="87.8" text-anchor="end">100</text>
<text x="636.3" y="1212" text-anchor="middle">600</text>
<text x="1116.6" y="1212" text-anchor="middle">800</text>
<text x="1597.0" y="1212" text-anchor="middle">1000</text>
</g>
<g font-size="57px">
<text x="936.3" y="1296.6" text-anchor="middle" textLength="398.3" lengthAdjust="spacingAndGlyphs">Wavelength, nm</text>
<text transform="translate(102,586.1) rotate(-90)" text-anchor="middle" textLength="427" lengthAdjust="spacingAndGlyphs">Transmittance, %</text>
</g>
<rect x="307.5" y="103.5" width="282.5" height="790.5" fill="#fff" stroke="#000" stroke-width="3"/>
<g font-size="37.2px">
<path d="M313,129.5 H394.3" stroke="#000000" stroke-width="6.8" stroke-linecap="round" fill="none"/>
<text transform="translate(405.6,141.3) scale(0.977,1)">Pristine</text>
<path d="M313,182.3 H394.3" stroke="#ff0000" stroke-width="6.8" stroke-linecap="round" fill="none"/>
<text transform="translate(405.6,194.1) scale(0.977,1)">10<tspan class="s" dy="-16">2</tspan><tspan dy="16"> cm</tspan><tspan class="s" dy="-16">−</tspan><tspan class="s" dx="1.5">2</tspan></text>
<path d="M313,235.2 H394.3" stroke="#0000ff" stroke-width="6.8" stroke-linecap="round" fill="none"/>
<text transform="translate(405.6,247.0) scale(0.977,1)">10<tspan class="s" dy="-16">3</tspan><tspan dy="16"> cm</tspan><tspan class="s" dy="-16">−</tspan><tspan class="s" dx="1.5">2</tspan></text>
<path d="M313,288.0 H394.3" stroke="#ff00ff" stroke-width="6.8" stroke-linecap="round" fill="none"/>
<text transform="translate(405.6,299.8) scale(0.977,1)">10<tspan class="s" dy="-16">4</tspan><tspan dy="16"> cm</tspan><tspan class="s" dy="-16">−</tspan><tspan class="s" dx="1.5">2</tspan></text>
<path d="M313,340.8 H394.3" stroke="#008000" stroke-width="6.8" stroke-linecap="round" fill="none"/>
<text transform="translate(405.6,352.6) scale(0.977,1)">5<tspan class="x" dx="-6.5" dy="1">×</tspan><tspan dx="-7.2" dy="-1">10</tspan><tspan class="s" dy="-16">4</tspan><tspan dy="16"> cm</tspan><tspan class="s" dy="-16">−</tspan><tspan class="s" dx="1.5">2</tspan></text>
<path d="M313,393.6 H394.3" stroke="#00008c" stroke-width="6.8" stroke-linecap="round" fill="none"/>
<text transform="translate(405.6,405.4) scale(0.977,1)">10<tspan class="s" dy="-16">5</tspan><tspan dy="16"> cm</tspan><tspan class="s" dy="-16">−</tspan><tspan class="s" dx="1.5">2</tspan></text>
<path d="M313,446.5 H394.3" stroke="#9200ff" stroke-width="6.8" stroke-linecap="round" fill="none"/>
<text transform="translate(405.6,458.3) scale(0.977,1)">5<tspan class="x" dx="-6.5" dy="1">×</tspan><tspan dx="-7.2" dy="-1">10</tspan><tspan class="s" dy="-16">5</tspan><tspan dy="16"> cm</tspan><tspan class="s" dy="-16">−</tspan><tspan class="s" dx="1.5">2</tspan></text>
<path d="M313,499.3 H394.3" stroke="#900088" stroke-width="6.8" stroke-linecap="round" fill="none"/>
<text transform="translate(405.6,511.1) scale(0.977,1)">10<tspan class="s" dy="-16">6</tspan><tspan dy="16"> cm</tspan><tspan class="s" dy="-16">−</tspan><tspan class="s" dx="1.5">2</tspan></text>
<path d="M313,552.1 H394.3" stroke="#900000" stroke-width="6.8" stroke-linecap="round" fill="none"/>
<text transform="translate(405.6,563.9) scale(0.977,1)">5<tspan class="x" dx="-6.5" dy="1">×</tspan><tspan dx="-7.2" dy="-1">10</tspan><tspan class="s" dy="-16">6</tspan><tspan dy="16"> cm</tspan><tspan class="s" dy="-16">−</tspan><tspan class="s" dx="1.5">2</tspan></text>
<path d="M313,605.0 H394.3" stroke="#808000" stroke-width="6.8" stroke-linecap="round" fill="none"/>
<text transform="translate(405.6,616.8) scale(0.977,1)">10<tspan class="s" dy="-16">7</tspan><tspan dy="16"> cm</tspan><tspan class="s" dy="-16">−</tspan><tspan class="s" dx="1.5">2</tspan></text>
<path d="M313,657.8 H394.3" stroke="#0064a8" stroke-width="6.8" stroke-linecap="round" fill="none"/>
<text transform="translate(405.6,669.6) scale(0.977,1)">5<tspan class="x" dx="-6.5" dy="1">×</tspan><tspan dx="-7.2" dy="-1">10</tspan><tspan class="s" dy="-16">7</tspan><tspan dy="16"> cm</tspan><tspan class="s" dy="-16">−</tspan><tspan class="s" dx="1.5">2</tspan></text>
<path d="M313,710.6 H394.3" stroke="#009696" stroke-width="6.8" stroke-linecap="round" fill="none"/>
<text transform="translate(405.6,722.4) scale(0.977,1)">10<tspan class="s" dy="-16">8</tspan><tspan dy="16"> cm</tspan><tspan class="s" dy="-16">−</tspan><tspan class="s" dx="1.5">2</tspan></text>
<path d="M313,763.5 H394.3" stroke="#00cc28" stroke-width="6.8" stroke-linecap="round" fill="none"/>
<text transform="translate(405.6,775.3) scale(0.977,1)">2<tspan class="x" dx="-6.5" dy="1">×</tspan><tspan dx="-7.2" dy="-1">10</tspan><tspan class="s" dy="-16">8</tspan><tspan dy="16"> cm</tspan><tspan class="s" dy="-16">−</tspan><tspan class="s" dx="1.5">2</tspan></text>
<path d="M313,816.3 H394.3" stroke="#dc1c7c" stroke-width="6.8" stroke-linecap="round" fill="none"/>
<text transform="translate(405.6,828.1) scale(0.977,1)">5<tspan class="x" dx="-6.5" dy="1">×</tspan><tspan dx="-7.2" dy="-1">10</tspan><tspan class="s" dy="-16">8</tspan><tspan dy="16"> cm</tspan><tspan class="s" dy="-16">−</tspan><tspan class="s" dx="1.5">2</tspan></text>
<path d="M313,869.1 H394.3" stroke="#00c8d0" stroke-width="6.8" stroke-linecap="round" fill="none"/>
<text transform="translate(405.6,880.9) scale(0.977,1)">10<tspan class="s" dy="-16">9</tspan><tspan dy="16"> cm</tspan><tspan class="s" dy="-16">−</tspan><tspan class="s" dx="1.5">2</tspan></text>
</g>
</svg>
</body></html>
